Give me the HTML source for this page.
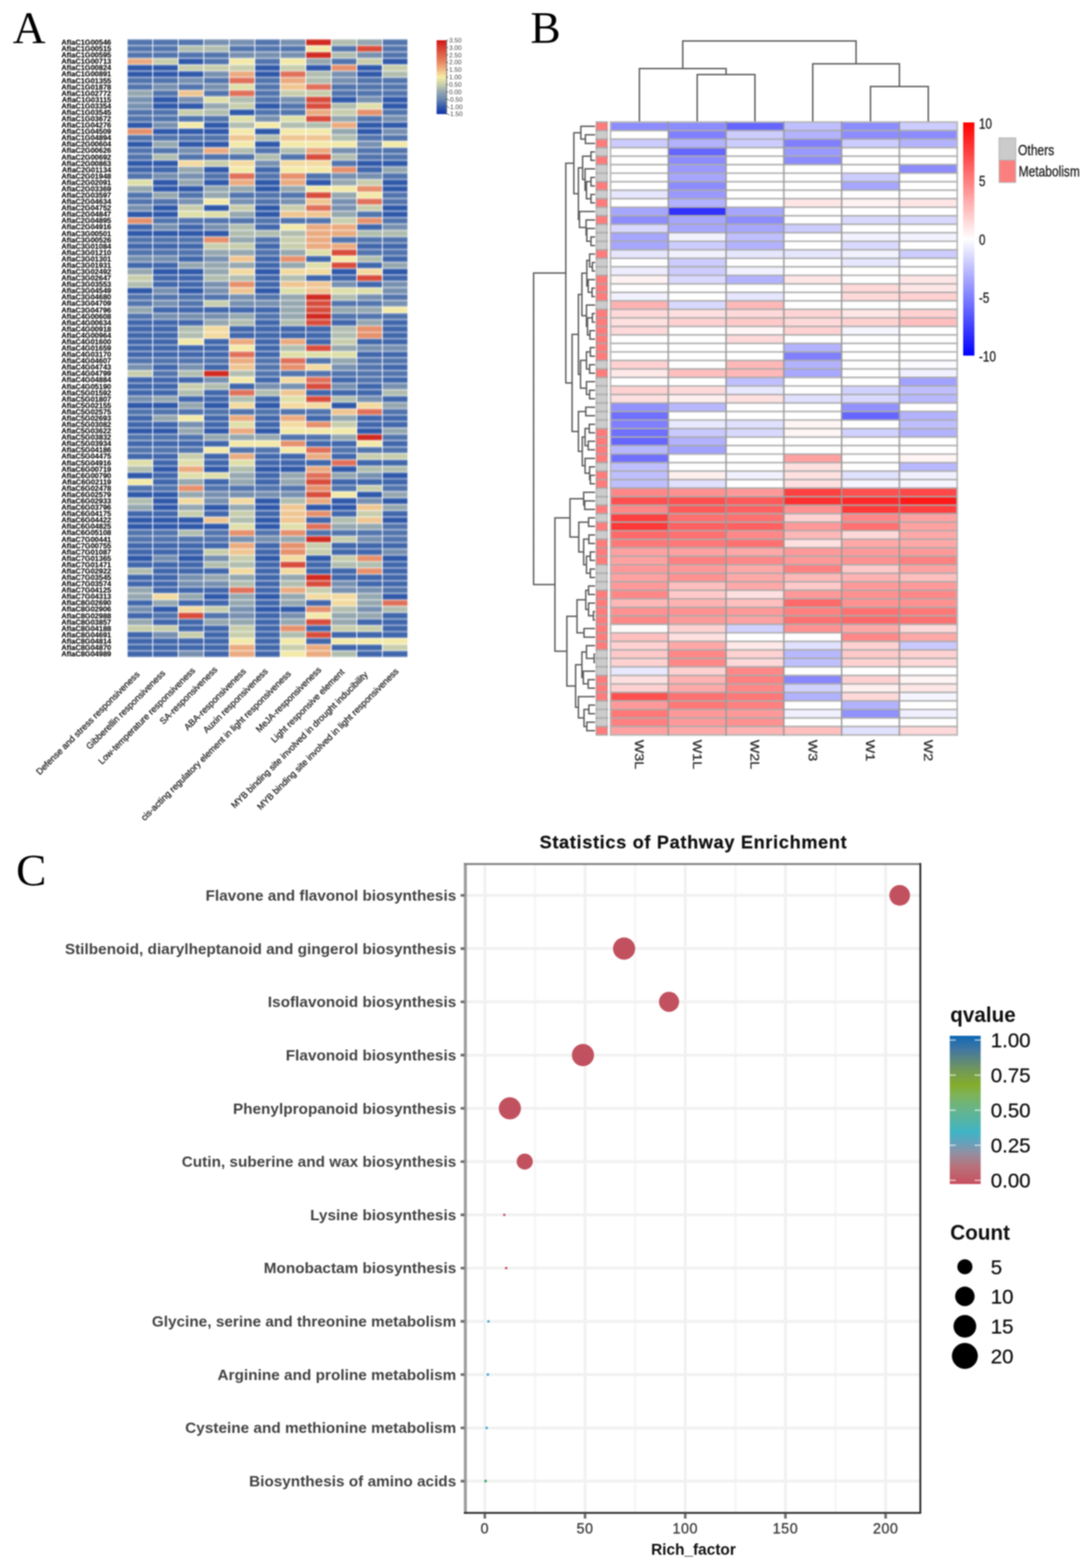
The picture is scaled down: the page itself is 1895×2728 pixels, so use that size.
<!DOCTYPE html>
<html lang="en"><head><meta charset="utf-8"><title>Figure</title><style>html,body{margin:0;padding:0;background:#fff}svg{display:block;filter:blur(0.8px)}</style></head><body>
<svg width="1895" height="2728" viewBox="0 0 1895 2728">
<rect width="1895" height="2728" fill="#fff"/>
<g id="panelA">
<text x="22.3" y="74" font-family="'Liberation Serif',serif" font-size="79" fill="#000">A</text>
<g>
<rect x="221.3" y="68.2" width="133.25" height="11.13" fill="#5274ad"/>
<rect x="354.5" y="68.2" width="88.85" height="11.13" fill="#7790b0"/>
<rect x="443.3" y="68.2" width="44.45" height="11.13" fill="#5274ad"/>
<rect x="487.7" y="68.2" width="44.45" height="11.13" fill="#7790b0"/>
<rect x="532.1" y="68.2" width="44.45" height="11.13" fill="#d02a20"/>
<rect x="576.5" y="68.2" width="44.45" height="11.13" fill="#b1beaf"/>
<rect x="620.9" y="68.2" width="44.45" height="11.13" fill="#95a7af"/>
<rect x="665.3" y="68.2" width="44.45" height="11.13" fill="#5274ad"/>
<rect x="221.3" y="79.28" width="88.85" height="11.13" fill="#5274ad"/>
<rect x="310.1" y="79.28" width="88.85" height="11.13" fill="#b1beaf"/>
<rect x="398.9" y="79.28" width="133.25" height="11.13" fill="#5274ad"/>
<rect x="532.1" y="79.28" width="44.45" height="11.13" fill="#f3e9a8"/>
<rect x="576.5" y="79.28" width="44.45" height="11.13" fill="#5274ad"/>
<rect x="620.9" y="79.28" width="44.45" height="11.13" fill="#d84c3c"/>
<rect x="665.3" y="79.28" width="44.45" height="11.13" fill="#5274ad"/>
<rect x="221.3" y="90.37" width="177.65" height="11.13" fill="#5274ad"/>
<rect x="398.9" y="90.37" width="133.25" height="11.13" fill="#7790b0"/>
<rect x="532.1" y="90.37" width="44.45" height="11.13" fill="#d02a20"/>
<rect x="576.5" y="90.37" width="44.45" height="11.13" fill="#b1beaf"/>
<rect x="620.9" y="90.37" width="44.45" height="11.13" fill="#7790b0"/>
<rect x="665.3" y="90.37" width="44.45" height="11.13" fill="#5274ad"/>
<rect x="221.3" y="101.45" width="44.45" height="11.13" fill="#ebab80"/>
<rect x="265.7" y="101.45" width="44.45" height="11.13" fill="#c8ceac"/>
<rect x="310.1" y="101.45" width="44.45" height="11.13" fill="#2f58a9"/>
<rect x="354.5" y="101.45" width="44.45" height="11.13" fill="#5274ad"/>
<rect x="398.9" y="101.45" width="44.45" height="11.13" fill="#f3e9a8"/>
<rect x="443.3" y="101.45" width="44.45" height="11.13" fill="#5274ad"/>
<rect x="487.7" y="101.45" width="44.45" height="11.13" fill="#f3e9a8"/>
<rect x="532.1" y="101.45" width="44.45" height="11.13" fill="#95a7af"/>
<rect x="576.5" y="101.45" width="44.45" height="11.13" fill="#5274ad"/>
<rect x="620.9" y="101.45" width="44.45" height="11.13" fill="#c8ceac"/>
<rect x="665.3" y="101.45" width="44.45" height="11.13" fill="#2f58a9"/>
<rect x="221.3" y="112.53" width="88.85" height="11.13" fill="#2f58a9"/>
<rect x="310.1" y="112.53" width="133.25" height="11.13" fill="#c8ceac"/>
<rect x="443.3" y="112.53" width="44.45" height="11.13" fill="#2f58a9"/>
<rect x="487.7" y="112.53" width="44.45" height="11.13" fill="#c8ceac"/>
<rect x="532.1" y="112.53" width="44.45" height="11.13" fill="#2f58a9"/>
<rect x="576.5" y="112.53" width="44.45" height="11.13" fill="#e6906c"/>
<rect x="620.9" y="112.53" width="44.45" height="11.13" fill="#2f58a9"/>
<rect x="665.3" y="112.53" width="44.45" height="11.13" fill="#c8ceac"/>
<rect x="221.3" y="123.62" width="133.25" height="11.13" fill="#2f58a9"/>
<rect x="354.5" y="123.62" width="44.45" height="11.13" fill="#7790b0"/>
<rect x="398.9" y="123.62" width="44.45" height="11.13" fill="#ebab80"/>
<rect x="443.3" y="123.62" width="44.45" height="11.13" fill="#2f58a9"/>
<rect x="487.7" y="123.62" width="44.45" height="11.13" fill="#e0705a"/>
<rect x="532.1" y="123.62" width="44.45" height="11.13" fill="#b1beaf"/>
<rect x="576.5" y="123.62" width="44.45" height="11.13" fill="#7790b0"/>
<rect x="620.9" y="123.62" width="44.45" height="11.13" fill="#2f58a9"/>
<rect x="665.3" y="123.62" width="44.45" height="11.13" fill="#b1beaf"/>
<rect x="221.3" y="134.7" width="88.85" height="11.13" fill="#5274ad"/>
<rect x="310.1" y="134.7" width="44.45" height="11.13" fill="#7790b0"/>
<rect x="354.5" y="134.7" width="44.45" height="11.13" fill="#5274ad"/>
<rect x="398.9" y="134.7" width="44.45" height="11.13" fill="#e0705a"/>
<rect x="443.3" y="134.7" width="44.45" height="11.13" fill="#5274ad"/>
<rect x="487.7" y="134.7" width="44.45" height="11.13" fill="#ebab80"/>
<rect x="532.1" y="134.7" width="44.45" height="11.13" fill="#b1beaf"/>
<rect x="576.5" y="134.7" width="44.45" height="11.13" fill="#7790b0"/>
<rect x="620.9" y="134.7" width="88.85" height="11.13" fill="#5274ad"/>
<rect x="221.3" y="145.78" width="44.45" height="11.13" fill="#5274ad"/>
<rect x="265.7" y="145.78" width="44.45" height="11.13" fill="#7790b0"/>
<rect x="310.1" y="145.78" width="44.45" height="11.13" fill="#5274ad"/>
<rect x="354.5" y="145.78" width="44.45" height="11.13" fill="#7790b0"/>
<rect x="398.9" y="145.78" width="44.45" height="11.13" fill="#dfdfa9"/>
<rect x="443.3" y="145.78" width="44.45" height="11.13" fill="#5274ad"/>
<rect x="487.7" y="145.78" width="44.45" height="11.13" fill="#efc692"/>
<rect x="532.1" y="145.78" width="44.45" height="11.13" fill="#e0705a"/>
<rect x="576.5" y="145.78" width="133.25" height="11.13" fill="#5274ad"/>
<rect x="221.3" y="156.87" width="44.45" height="11.13" fill="#95a7af"/>
<rect x="265.7" y="156.87" width="44.45" height="11.13" fill="#5274ad"/>
<rect x="310.1" y="156.87" width="44.45" height="11.13" fill="#efc692"/>
<rect x="354.5" y="156.87" width="44.45" height="11.13" fill="#5274ad"/>
<rect x="398.9" y="156.87" width="44.45" height="11.13" fill="#e0705a"/>
<rect x="443.3" y="156.87" width="44.45" height="11.13" fill="#5274ad"/>
<rect x="487.7" y="156.87" width="88.85" height="11.13" fill="#c8ceac"/>
<rect x="576.5" y="156.87" width="133.25" height="11.13" fill="#5274ad"/>
<rect x="221.3" y="167.95" width="44.45" height="11.13" fill="#7790b0"/>
<rect x="265.7" y="167.95" width="44.45" height="11.13" fill="#2f58a9"/>
<rect x="310.1" y="167.95" width="44.45" height="11.13" fill="#7790b0"/>
<rect x="354.5" y="167.95" width="44.45" height="11.13" fill="#dfdfa9"/>
<rect x="398.9" y="167.95" width="44.45" height="11.13" fill="#b1beaf"/>
<rect x="443.3" y="167.95" width="44.45" height="11.13" fill="#5274ad"/>
<rect x="487.7" y="167.95" width="44.45" height="11.13" fill="#7790b0"/>
<rect x="532.1" y="167.95" width="44.45" height="11.13" fill="#d84c3c"/>
<rect x="576.5" y="167.95" width="44.45" height="11.13" fill="#2f58a9"/>
<rect x="620.9" y="167.95" width="44.45" height="11.13" fill="#7790b0"/>
<rect x="665.3" y="167.95" width="44.45" height="11.13" fill="#2f58a9"/>
<rect x="221.3" y="179.04" width="44.45" height="11.13" fill="#7790b0"/>
<rect x="265.7" y="179.04" width="88.85" height="11.13" fill="#2f58a9"/>
<rect x="354.5" y="179.04" width="44.45" height="11.13" fill="#95a7af"/>
<rect x="398.9" y="179.04" width="44.45" height="11.13" fill="#c8ceac"/>
<rect x="443.3" y="179.04" width="44.45" height="11.13" fill="#2f58a9"/>
<rect x="487.7" y="179.04" width="44.45" height="11.13" fill="#5274ad"/>
<rect x="532.1" y="179.04" width="44.45" height="11.13" fill="#d84c3c"/>
<rect x="576.5" y="179.04" width="44.45" height="11.13" fill="#b1beaf"/>
<rect x="620.9" y="179.04" width="44.45" height="11.13" fill="#dfdfa9"/>
<rect x="665.3" y="179.04" width="44.45" height="11.13" fill="#2f58a9"/>
<rect x="221.3" y="190.12" width="88.85" height="11.13" fill="#5274ad"/>
<rect x="310.1" y="190.12" width="44.45" height="11.13" fill="#c8ceac"/>
<rect x="354.5" y="190.12" width="44.45" height="11.13" fill="#b1beaf"/>
<rect x="398.9" y="190.12" width="44.45" height="11.13" fill="#2f58a9"/>
<rect x="443.3" y="190.12" width="88.85" height="11.13" fill="#5274ad"/>
<rect x="532.1" y="190.12" width="44.45" height="11.13" fill="#ebab80"/>
<rect x="576.5" y="190.12" width="44.45" height="11.13" fill="#c8ceac"/>
<rect x="620.9" y="190.12" width="44.45" height="11.13" fill="#e6906c"/>
<rect x="665.3" y="190.12" width="44.45" height="11.13" fill="#5274ad"/>
<rect x="221.3" y="201.2" width="177.65" height="11.13" fill="#5274ad"/>
<rect x="398.9" y="201.2" width="44.45" height="11.13" fill="#dfdfa9"/>
<rect x="443.3" y="201.2" width="44.45" height="11.13" fill="#7790b0"/>
<rect x="487.7" y="201.2" width="44.45" height="11.13" fill="#dfdfa9"/>
<rect x="532.1" y="201.2" width="44.45" height="11.13" fill="#d84c3c"/>
<rect x="576.5" y="201.2" width="44.45" height="11.13" fill="#95a7af"/>
<rect x="620.9" y="201.2" width="44.45" height="11.13" fill="#5274ad"/>
<rect x="665.3" y="201.2" width="44.45" height="11.13" fill="#7790b0"/>
<rect x="221.3" y="212.29" width="44.45" height="11.13" fill="#2f58a9"/>
<rect x="265.7" y="212.29" width="44.45" height="11.13" fill="#7790b0"/>
<rect x="310.1" y="212.29" width="44.45" height="11.13" fill="#f3e9a8"/>
<rect x="354.5" y="212.29" width="44.45" height="11.13" fill="#2f58a9"/>
<rect x="398.9" y="212.29" width="44.45" height="11.13" fill="#b1beaf"/>
<rect x="443.3" y="212.29" width="44.45" height="11.13" fill="#f3e9a8"/>
<rect x="487.7" y="212.29" width="88.85" height="11.13" fill="#b1beaf"/>
<rect x="576.5" y="212.29" width="44.45" height="11.13" fill="#ebab80"/>
<rect x="620.9" y="212.29" width="88.85" height="11.13" fill="#2f58a9"/>
<rect x="221.3" y="223.37" width="44.45" height="11.13" fill="#e6906c"/>
<rect x="265.7" y="223.37" width="133.25" height="11.13" fill="#2f58a9"/>
<rect x="398.9" y="223.37" width="44.45" height="11.13" fill="#f3e9a8"/>
<rect x="443.3" y="223.37" width="44.45" height="11.13" fill="#2f58a9"/>
<rect x="487.7" y="223.37" width="88.85" height="11.13" fill="#f3e9a8"/>
<rect x="576.5" y="223.37" width="44.45" height="11.13" fill="#95a7af"/>
<rect x="620.9" y="223.37" width="44.45" height="11.13" fill="#2f58a9"/>
<rect x="665.3" y="223.37" width="44.45" height="11.13" fill="#7790b0"/>
<rect x="221.3" y="234.45" width="177.65" height="11.13" fill="#5274ad"/>
<rect x="398.9" y="234.45" width="44.45" height="11.13" fill="#efc692"/>
<rect x="443.3" y="234.45" width="44.45" height="11.13" fill="#b1beaf"/>
<rect x="487.7" y="234.45" width="88.85" height="11.13" fill="#efc692"/>
<rect x="576.5" y="234.45" width="44.45" height="11.13" fill="#b1beaf"/>
<rect x="620.9" y="234.45" width="88.85" height="11.13" fill="#5274ad"/>
<rect x="221.3" y="245.54" width="44.45" height="11.13" fill="#2f58a9"/>
<rect x="265.7" y="245.54" width="44.45" height="11.13" fill="#95a7af"/>
<rect x="310.1" y="245.54" width="88.85" height="11.13" fill="#2f58a9"/>
<rect x="398.9" y="245.54" width="44.45" height="11.13" fill="#f3e9a8"/>
<rect x="443.3" y="245.54" width="44.45" height="11.13" fill="#2f58a9"/>
<rect x="487.7" y="245.54" width="133.25" height="11.13" fill="#f3e9a8"/>
<rect x="620.9" y="245.54" width="44.45" height="11.13" fill="#7790b0"/>
<rect x="665.3" y="245.54" width="44.45" height="11.13" fill="#f3e9a8"/>
<rect x="221.3" y="256.62" width="88.85" height="11.13" fill="#5274ad"/>
<rect x="310.1" y="256.62" width="44.45" height="11.13" fill="#7790b0"/>
<rect x="354.5" y="256.62" width="44.45" height="11.13" fill="#ebab80"/>
<rect x="398.9" y="256.62" width="44.45" height="11.13" fill="#b1beaf"/>
<rect x="443.3" y="256.62" width="44.45" height="11.13" fill="#5274ad"/>
<rect x="487.7" y="256.62" width="44.45" height="11.13" fill="#b1beaf"/>
<rect x="532.1" y="256.62" width="44.45" height="11.13" fill="#ebab80"/>
<rect x="576.5" y="256.62" width="44.45" height="11.13" fill="#7790b0"/>
<rect x="620.9" y="256.62" width="88.85" height="11.13" fill="#5274ad"/>
<rect x="221.3" y="267.7" width="44.45" height="11.13" fill="#5274ad"/>
<rect x="265.7" y="267.7" width="44.45" height="11.13" fill="#b1beaf"/>
<rect x="310.1" y="267.7" width="133.25" height="11.13" fill="#5274ad"/>
<rect x="443.3" y="267.7" width="44.45" height="11.13" fill="#b1beaf"/>
<rect x="487.7" y="267.7" width="44.45" height="11.13" fill="#5274ad"/>
<rect x="532.1" y="267.7" width="44.45" height="11.13" fill="#d84c3c"/>
<rect x="576.5" y="267.7" width="44.45" height="11.13" fill="#b1beaf"/>
<rect x="620.9" y="267.7" width="88.85" height="11.13" fill="#5274ad"/>
<rect x="221.3" y="278.79" width="88.85" height="11.13" fill="#2f58a9"/>
<rect x="310.1" y="278.79" width="44.45" height="11.13" fill="#f3daa0"/>
<rect x="354.5" y="278.79" width="44.45" height="11.13" fill="#c8ceac"/>
<rect x="398.9" y="278.79" width="44.45" height="11.13" fill="#f3daa0"/>
<rect x="443.3" y="278.79" width="44.45" height="11.13" fill="#7790b0"/>
<rect x="487.7" y="278.79" width="88.85" height="11.13" fill="#f3daa0"/>
<rect x="576.5" y="278.79" width="44.45" height="11.13" fill="#5274ad"/>
<rect x="620.9" y="278.79" width="88.85" height="11.13" fill="#2f58a9"/>
<rect x="221.3" y="289.87" width="88.85" height="11.13" fill="#4066ab"/>
<rect x="310.1" y="289.87" width="44.45" height="11.13" fill="#95a7af"/>
<rect x="354.5" y="289.87" width="44.45" height="11.13" fill="#2f58a9"/>
<rect x="398.9" y="289.87" width="44.45" height="11.13" fill="#f3e9a8"/>
<rect x="443.3" y="289.87" width="44.45" height="11.13" fill="#4066ab"/>
<rect x="487.7" y="289.87" width="88.85" height="11.13" fill="#f3e9a8"/>
<rect x="576.5" y="289.87" width="44.45" height="11.13" fill="#e6906c"/>
<rect x="620.9" y="289.87" width="44.45" height="11.13" fill="#4066ab"/>
<rect x="665.3" y="289.87" width="44.45" height="11.13" fill="#95a7af"/>
<rect x="221.3" y="300.95" width="44.45" height="11.13" fill="#5274ad"/>
<rect x="265.7" y="300.95" width="88.85" height="11.13" fill="#7790b0"/>
<rect x="354.5" y="300.95" width="44.45" height="11.13" fill="#5274ad"/>
<rect x="398.9" y="300.95" width="44.45" height="11.13" fill="#e0705a"/>
<rect x="443.3" y="300.95" width="44.45" height="11.13" fill="#5274ad"/>
<rect x="487.7" y="300.95" width="44.45" height="11.13" fill="#e6906c"/>
<rect x="532.1" y="300.95" width="44.45" height="11.13" fill="#5274ad"/>
<rect x="576.5" y="300.95" width="88.85" height="11.13" fill="#7790b0"/>
<rect x="665.3" y="300.95" width="44.45" height="11.13" fill="#5274ad"/>
<rect x="221.3" y="312.04" width="44.45" height="11.13" fill="#dfdfa9"/>
<rect x="265.7" y="312.04" width="44.45" height="11.13" fill="#2f58a9"/>
<rect x="310.1" y="312.04" width="44.45" height="11.13" fill="#95a7af"/>
<rect x="354.5" y="312.04" width="44.45" height="11.13" fill="#2f58a9"/>
<rect x="398.9" y="312.04" width="44.45" height="11.13" fill="#ebab80"/>
<rect x="443.3" y="312.04" width="44.45" height="11.13" fill="#2f58a9"/>
<rect x="487.7" y="312.04" width="44.45" height="11.13" fill="#ebab80"/>
<rect x="532.1" y="312.04" width="44.45" height="11.13" fill="#2f58a9"/>
<rect x="576.5" y="312.04" width="44.45" height="11.13" fill="#95a7af"/>
<rect x="620.9" y="312.04" width="44.45" height="11.13" fill="#c8ceac"/>
<rect x="665.3" y="312.04" width="44.45" height="11.13" fill="#2f58a9"/>
<rect x="221.3" y="323.12" width="44.45" height="11.13" fill="#95a7af"/>
<rect x="265.7" y="323.12" width="88.85" height="11.13" fill="#2f58a9"/>
<rect x="354.5" y="323.12" width="88.85" height="11.13" fill="#95a7af"/>
<rect x="443.3" y="323.12" width="44.45" height="11.13" fill="#2f58a9"/>
<rect x="487.7" y="323.12" width="44.45" height="11.13" fill="#95a7af"/>
<rect x="532.1" y="323.12" width="88.85" height="11.13" fill="#f3e9a8"/>
<rect x="620.9" y="323.12" width="44.45" height="11.13" fill="#e6906c"/>
<rect x="665.3" y="323.12" width="44.45" height="11.13" fill="#2f58a9"/>
<rect x="221.3" y="334.2" width="44.45" height="11.13" fill="#5274ad"/>
<rect x="265.7" y="334.2" width="44.45" height="11.13" fill="#95a7af"/>
<rect x="310.1" y="334.2" width="44.45" height="11.13" fill="#5274ad"/>
<rect x="354.5" y="334.2" width="44.45" height="11.13" fill="#95a7af"/>
<rect x="398.9" y="334.2" width="133.25" height="11.13" fill="#5274ad"/>
<rect x="532.1" y="334.2" width="44.45" height="11.13" fill="#d84c3c"/>
<rect x="576.5" y="334.2" width="44.45" height="11.13" fill="#95a7af"/>
<rect x="620.9" y="334.2" width="44.45" height="11.13" fill="#f3e9a8"/>
<rect x="665.3" y="334.2" width="44.45" height="11.13" fill="#5274ad"/>
<rect x="221.3" y="345.29" width="88.85" height="11.13" fill="#5274ad"/>
<rect x="310.1" y="345.29" width="44.45" height="11.13" fill="#7790b0"/>
<rect x="354.5" y="345.29" width="44.45" height="11.13" fill="#f3e9a8"/>
<rect x="398.9" y="345.29" width="44.45" height="11.13" fill="#7790b0"/>
<rect x="443.3" y="345.29" width="44.45" height="11.13" fill="#5274ad"/>
<rect x="487.7" y="345.29" width="44.45" height="11.13" fill="#7790b0"/>
<rect x="532.1" y="345.29" width="44.45" height="11.13" fill="#efc692"/>
<rect x="576.5" y="345.29" width="44.45" height="11.13" fill="#7790b0"/>
<rect x="620.9" y="345.29" width="44.45" height="11.13" fill="#e0705a"/>
<rect x="665.3" y="345.29" width="44.45" height="11.13" fill="#5274ad"/>
<rect x="221.3" y="356.37" width="44.45" height="11.13" fill="#7790b0"/>
<rect x="265.7" y="356.37" width="44.45" height="11.13" fill="#2f58a9"/>
<rect x="310.1" y="356.37" width="44.45" height="11.13" fill="#c8ceac"/>
<rect x="354.5" y="356.37" width="44.45" height="11.13" fill="#2f58a9"/>
<rect x="398.9" y="356.37" width="44.45" height="11.13" fill="#c8ceac"/>
<rect x="443.3" y="356.37" width="44.45" height="11.13" fill="#2f58a9"/>
<rect x="487.7" y="356.37" width="44.45" height="11.13" fill="#c8ceac"/>
<rect x="532.1" y="356.37" width="44.45" height="11.13" fill="#e0705a"/>
<rect x="576.5" y="356.37" width="44.45" height="11.13" fill="#7790b0"/>
<rect x="620.9" y="356.37" width="44.45" height="11.13" fill="#c8ceac"/>
<rect x="665.3" y="356.37" width="44.45" height="11.13" fill="#2f58a9"/>
<rect x="221.3" y="367.45" width="88.85" height="11.13" fill="#2f58a9"/>
<rect x="310.1" y="367.45" width="88.85" height="11.13" fill="#dfdfa9"/>
<rect x="398.9" y="367.45" width="44.45" height="11.13" fill="#95a7af"/>
<rect x="443.3" y="367.45" width="44.45" height="11.13" fill="#2f58a9"/>
<rect x="487.7" y="367.45" width="88.85" height="11.13" fill="#efc692"/>
<rect x="576.5" y="367.45" width="44.45" height="11.13" fill="#95a7af"/>
<rect x="620.9" y="367.45" width="44.45" height="11.13" fill="#5274ad"/>
<rect x="665.3" y="367.45" width="44.45" height="11.13" fill="#2f58a9"/>
<rect x="221.3" y="378.54" width="44.45" height="11.13" fill="#e6906c"/>
<rect x="265.7" y="378.54" width="310.85" height="11.13" fill="#5274ad"/>
<rect x="576.5" y="378.54" width="44.45" height="11.13" fill="#c8ceac"/>
<rect x="620.9" y="378.54" width="44.45" height="11.13" fill="#e6906c"/>
<rect x="665.3" y="378.54" width="44.45" height="11.13" fill="#5274ad"/>
<rect x="221.3" y="389.62" width="44.45" height="11.13" fill="#4066ab"/>
<rect x="265.7" y="389.62" width="44.45" height="11.13" fill="#7790b0"/>
<rect x="310.1" y="389.62" width="44.45" height="11.13" fill="#4066ab"/>
<rect x="354.5" y="389.62" width="44.45" height="11.13" fill="#7790b0"/>
<rect x="398.9" y="389.62" width="44.45" height="11.13" fill="#b1beaf"/>
<rect x="443.3" y="389.62" width="44.45" height="11.13" fill="#4066ab"/>
<rect x="487.7" y="389.62" width="44.45" height="11.13" fill="#f3e9a8"/>
<rect x="532.1" y="389.62" width="88.85" height="11.13" fill="#ebab80"/>
<rect x="620.9" y="389.62" width="44.45" height="11.13" fill="#4066ab"/>
<rect x="665.3" y="389.62" width="44.45" height="11.13" fill="#7790b0"/>
<rect x="221.3" y="400.71" width="177.65" height="11.13" fill="#2f58a9"/>
<rect x="398.9" y="400.71" width="133.25" height="11.13" fill="#b1beaf"/>
<rect x="532.1" y="400.71" width="88.85" height="11.13" fill="#ebab80"/>
<rect x="620.9" y="400.71" width="88.85" height="11.13" fill="#b1beaf"/>
<rect x="221.3" y="411.79" width="133.25" height="11.13" fill="#5274ad"/>
<rect x="354.5" y="411.79" width="44.45" height="11.13" fill="#e6906c"/>
<rect x="398.9" y="411.79" width="44.45" height="11.13" fill="#95a7af"/>
<rect x="443.3" y="411.79" width="44.45" height="11.13" fill="#5274ad"/>
<rect x="487.7" y="411.79" width="44.45" height="11.13" fill="#c8ceac"/>
<rect x="532.1" y="411.79" width="44.45" height="11.13" fill="#ebab80"/>
<rect x="576.5" y="411.79" width="133.25" height="11.13" fill="#5274ad"/>
<rect x="221.3" y="422.87" width="133.25" height="11.13" fill="#4066ab"/>
<rect x="354.5" y="422.87" width="88.85" height="11.13" fill="#c8ceac"/>
<rect x="443.3" y="422.87" width="44.45" height="11.13" fill="#4066ab"/>
<rect x="487.7" y="422.87" width="44.45" height="11.13" fill="#c8ceac"/>
<rect x="532.1" y="422.87" width="88.85" height="11.13" fill="#ebab80"/>
<rect x="620.9" y="422.87" width="88.85" height="11.13" fill="#4066ab"/>
<rect x="221.3" y="433.96" width="133.25" height="11.13" fill="#5274ad"/>
<rect x="354.5" y="433.96" width="88.85" height="11.13" fill="#95a7af"/>
<rect x="443.3" y="433.96" width="44.45" height="11.13" fill="#5274ad"/>
<rect x="487.7" y="433.96" width="44.45" height="11.13" fill="#95a7af"/>
<rect x="532.1" y="433.96" width="44.45" height="11.13" fill="#dfdfa9"/>
<rect x="576.5" y="433.96" width="44.45" height="11.13" fill="#d84c3c"/>
<rect x="620.9" y="433.96" width="88.85" height="11.13" fill="#5274ad"/>
<rect x="221.3" y="445.04" width="88.85" height="11.13" fill="#7790b0"/>
<rect x="310.1" y="445.04" width="44.45" height="11.13" fill="#4066ab"/>
<rect x="354.5" y="445.04" width="44.45" height="11.13" fill="#7790b0"/>
<rect x="398.9" y="445.04" width="44.45" height="11.13" fill="#efc692"/>
<rect x="443.3" y="445.04" width="44.45" height="11.13" fill="#4066ab"/>
<rect x="487.7" y="445.04" width="44.45" height="11.13" fill="#e6906c"/>
<rect x="532.1" y="445.04" width="44.45" height="11.13" fill="#4066ab"/>
<rect x="576.5" y="445.04" width="44.45" height="11.13" fill="#f3e9a8"/>
<rect x="620.9" y="445.04" width="44.45" height="11.13" fill="#b1beaf"/>
<rect x="665.3" y="445.04" width="44.45" height="11.13" fill="#4066ab"/>
<rect x="221.3" y="456.12" width="88.85" height="11.13" fill="#4066ab"/>
<rect x="310.1" y="456.12" width="133.25" height="11.13" fill="#95a7af"/>
<rect x="443.3" y="456.12" width="44.45" height="11.13" fill="#4066ab"/>
<rect x="487.7" y="456.12" width="44.45" height="11.13" fill="#95a7af"/>
<rect x="532.1" y="456.12" width="44.45" height="11.13" fill="#dfdfa9"/>
<rect x="576.5" y="456.12" width="44.45" height="11.13" fill="#d84c3c"/>
<rect x="620.9" y="456.12" width="44.45" height="11.13" fill="#4066ab"/>
<rect x="665.3" y="456.12" width="44.45" height="11.13" fill="#95a7af"/>
<rect x="221.3" y="467.21" width="44.45" height="11.13" fill="#95a7af"/>
<rect x="265.7" y="467.21" width="88.85" height="11.13" fill="#2f58a9"/>
<rect x="354.5" y="467.21" width="44.45" height="11.13" fill="#95a7af"/>
<rect x="398.9" y="467.21" width="44.45" height="11.13" fill="#f3daa0"/>
<rect x="443.3" y="467.21" width="44.45" height="11.13" fill="#2f58a9"/>
<rect x="487.7" y="467.21" width="88.85" height="11.13" fill="#f3daa0"/>
<rect x="576.5" y="467.21" width="44.45" height="11.13" fill="#2f58a9"/>
<rect x="620.9" y="467.21" width="44.45" height="11.13" fill="#f3daa0"/>
<rect x="665.3" y="467.21" width="44.45" height="11.13" fill="#2f58a9"/>
<rect x="221.3" y="478.29" width="44.45" height="11.13" fill="#c8ceac"/>
<rect x="265.7" y="478.29" width="88.85" height="11.13" fill="#4066ab"/>
<rect x="354.5" y="478.29" width="88.85" height="11.13" fill="#b1beaf"/>
<rect x="443.3" y="478.29" width="44.45" height="11.13" fill="#4066ab"/>
<rect x="487.7" y="478.29" width="44.45" height="11.13" fill="#b1beaf"/>
<rect x="532.1" y="478.29" width="88.85" height="11.13" fill="#4066ab"/>
<rect x="620.9" y="478.29" width="44.45" height="11.13" fill="#d84c3c"/>
<rect x="665.3" y="478.29" width="44.45" height="11.13" fill="#4066ab"/>
<rect x="221.3" y="489.37" width="44.45" height="11.13" fill="#b1beaf"/>
<rect x="265.7" y="489.37" width="88.85" height="11.13" fill="#4066ab"/>
<rect x="354.5" y="489.37" width="44.45" height="11.13" fill="#7790b0"/>
<rect x="398.9" y="489.37" width="44.45" height="11.13" fill="#e6906c"/>
<rect x="443.3" y="489.37" width="44.45" height="11.13" fill="#4066ab"/>
<rect x="487.7" y="489.37" width="88.85" height="11.13" fill="#efc692"/>
<rect x="576.5" y="489.37" width="44.45" height="11.13" fill="#7790b0"/>
<rect x="620.9" y="489.37" width="44.45" height="11.13" fill="#4066ab"/>
<rect x="665.3" y="489.37" width="44.45" height="11.13" fill="#7790b0"/>
<rect x="221.3" y="500.46" width="44.45" height="11.13" fill="#2f58a9"/>
<rect x="265.7" y="500.46" width="44.45" height="11.13" fill="#7790b0"/>
<rect x="310.1" y="500.46" width="44.45" height="11.13" fill="#2f58a9"/>
<rect x="354.5" y="500.46" width="44.45" height="11.13" fill="#7790b0"/>
<rect x="398.9" y="500.46" width="44.45" height="11.13" fill="#efc692"/>
<rect x="443.3" y="500.46" width="44.45" height="11.13" fill="#2f58a9"/>
<rect x="487.7" y="500.46" width="44.45" height="11.13" fill="#dfdfa9"/>
<rect x="532.1" y="500.46" width="44.45" height="11.13" fill="#efc692"/>
<rect x="576.5" y="500.46" width="88.85" height="11.13" fill="#dfdfa9"/>
<rect x="665.3" y="500.46" width="44.45" height="11.13" fill="#7790b0"/>
<rect x="221.3" y="511.54" width="177.65" height="11.13" fill="#5274ad"/>
<rect x="398.9" y="511.54" width="44.45" height="11.13" fill="#7790b0"/>
<rect x="443.3" y="511.54" width="44.45" height="11.13" fill="#5274ad"/>
<rect x="487.7" y="511.54" width="44.45" height="11.13" fill="#95a7af"/>
<rect x="532.1" y="511.54" width="44.45" height="11.13" fill="#d02a20"/>
<rect x="576.5" y="511.54" width="44.45" height="11.13" fill="#b1beaf"/>
<rect x="620.9" y="511.54" width="44.45" height="11.13" fill="#7790b0"/>
<rect x="665.3" y="511.54" width="44.45" height="11.13" fill="#5274ad"/>
<rect x="221.3" y="522.62" width="44.45" height="11.13" fill="#5274ad"/>
<rect x="265.7" y="522.62" width="44.45" height="11.13" fill="#7790b0"/>
<rect x="310.1" y="522.62" width="44.45" height="11.13" fill="#5274ad"/>
<rect x="354.5" y="522.62" width="44.45" height="11.13" fill="#c8ceac"/>
<rect x="398.9" y="522.62" width="88.85" height="11.13" fill="#7790b0"/>
<rect x="487.7" y="522.62" width="44.45" height="11.13" fill="#95a7af"/>
<rect x="532.1" y="522.62" width="44.45" height="11.13" fill="#d84c3c"/>
<rect x="576.5" y="522.62" width="88.85" height="11.13" fill="#5274ad"/>
<rect x="665.3" y="522.62" width="44.45" height="11.13" fill="#7790b0"/>
<rect x="221.3" y="533.71" width="44.45" height="11.13" fill="#95a7af"/>
<rect x="265.7" y="533.71" width="222.05" height="11.13" fill="#4066ab"/>
<rect x="487.7" y="533.71" width="44.45" height="11.13" fill="#95a7af"/>
<rect x="532.1" y="533.71" width="44.45" height="11.13" fill="#d84c3c"/>
<rect x="576.5" y="533.71" width="88.85" height="11.13" fill="#95a7af"/>
<rect x="665.3" y="533.71" width="44.45" height="11.13" fill="#f3e9a8"/>
<rect x="221.3" y="544.79" width="44.45" height="11.13" fill="#5274ad"/>
<rect x="265.7" y="544.79" width="133.25" height="11.13" fill="#7790b0"/>
<rect x="398.9" y="544.79" width="44.45" height="11.13" fill="#95a7af"/>
<rect x="443.3" y="544.79" width="44.45" height="11.13" fill="#5274ad"/>
<rect x="487.7" y="544.79" width="44.45" height="11.13" fill="#95a7af"/>
<rect x="532.1" y="544.79" width="44.45" height="11.13" fill="#d02a20"/>
<rect x="576.5" y="544.79" width="133.25" height="11.13" fill="#5274ad"/>
<rect x="221.3" y="555.87" width="133.25" height="11.13" fill="#4066ab"/>
<rect x="354.5" y="555.87" width="44.45" height="11.13" fill="#95a7af"/>
<rect x="398.9" y="555.87" width="44.45" height="11.13" fill="#b1beaf"/>
<rect x="443.3" y="555.87" width="44.45" height="11.13" fill="#4066ab"/>
<rect x="487.7" y="555.87" width="44.45" height="11.13" fill="#b1beaf"/>
<rect x="532.1" y="555.87" width="44.45" height="11.13" fill="#d84c3c"/>
<rect x="576.5" y="555.87" width="44.45" height="11.13" fill="#4066ab"/>
<rect x="620.9" y="555.87" width="44.45" height="11.13" fill="#95a7af"/>
<rect x="665.3" y="555.87" width="44.45" height="11.13" fill="#4066ab"/>
<rect x="221.3" y="566.96" width="88.85" height="11.13" fill="#4066ab"/>
<rect x="310.1" y="566.96" width="44.45" height="11.13" fill="#b1beaf"/>
<rect x="354.5" y="566.96" width="44.45" height="11.13" fill="#f3daa0"/>
<rect x="398.9" y="566.96" width="177.65" height="11.13" fill="#4066ab"/>
<rect x="576.5" y="566.96" width="44.45" height="11.13" fill="#b1beaf"/>
<rect x="620.9" y="566.96" width="44.45" height="11.13" fill="#e6906c"/>
<rect x="665.3" y="566.96" width="44.45" height="11.13" fill="#4066ab"/>
<rect x="221.3" y="578.04" width="88.85" height="11.13" fill="#4066ab"/>
<rect x="310.1" y="578.04" width="44.45" height="11.13" fill="#b1beaf"/>
<rect x="354.5" y="578.04" width="44.45" height="11.13" fill="#f3daa0"/>
<rect x="398.9" y="578.04" width="177.65" height="11.13" fill="#4066ab"/>
<rect x="576.5" y="578.04" width="44.45" height="11.13" fill="#b1beaf"/>
<rect x="620.9" y="578.04" width="44.45" height="11.13" fill="#e6906c"/>
<rect x="665.3" y="578.04" width="44.45" height="11.13" fill="#4066ab"/>
<rect x="221.3" y="589.12" width="88.85" height="11.13" fill="#4066ab"/>
<rect x="310.1" y="589.12" width="44.45" height="11.13" fill="#f3e9a8"/>
<rect x="354.5" y="589.12" width="44.45" height="11.13" fill="#4066ab"/>
<rect x="398.9" y="589.12" width="44.45" height="11.13" fill="#ebab80"/>
<rect x="443.3" y="589.12" width="44.45" height="11.13" fill="#4066ab"/>
<rect x="487.7" y="589.12" width="44.45" height="11.13" fill="#ebab80"/>
<rect x="532.1" y="589.12" width="44.45" height="11.13" fill="#4066ab"/>
<rect x="576.5" y="589.12" width="44.45" height="11.13" fill="#c8ceac"/>
<rect x="620.9" y="589.12" width="88.85" height="11.13" fill="#4066ab"/>
<rect x="221.3" y="600.21" width="177.65" height="11.13" fill="#4066ab"/>
<rect x="398.9" y="600.21" width="44.45" height="11.13" fill="#f3e9a8"/>
<rect x="443.3" y="600.21" width="44.45" height="11.13" fill="#4066ab"/>
<rect x="487.7" y="600.21" width="44.45" height="11.13" fill="#b1beaf"/>
<rect x="532.1" y="600.21" width="44.45" height="11.13" fill="#d84c3c"/>
<rect x="576.5" y="600.21" width="44.45" height="11.13" fill="#95a7af"/>
<rect x="620.9" y="600.21" width="88.85" height="11.13" fill="#7790b0"/>
<rect x="221.3" y="611.29" width="177.65" height="11.13" fill="#4066ab"/>
<rect x="398.9" y="611.29" width="44.45" height="11.13" fill="#e0705a"/>
<rect x="443.3" y="611.29" width="44.45" height="11.13" fill="#4066ab"/>
<rect x="487.7" y="611.29" width="133.25" height="11.13" fill="#dfdfa9"/>
<rect x="620.9" y="611.29" width="88.85" height="11.13" fill="#4066ab"/>
<rect x="221.3" y="622.38" width="177.65" height="11.13" fill="#5274ad"/>
<rect x="398.9" y="622.38" width="44.45" height="11.13" fill="#ebab80"/>
<rect x="443.3" y="622.38" width="44.45" height="11.13" fill="#5274ad"/>
<rect x="487.7" y="622.38" width="44.45" height="11.13" fill="#e0705a"/>
<rect x="532.1" y="622.38" width="44.45" height="11.13" fill="#5274ad"/>
<rect x="576.5" y="622.38" width="44.45" height="11.13" fill="#95a7af"/>
<rect x="620.9" y="622.38" width="88.85" height="11.13" fill="#5274ad"/>
<rect x="221.3" y="633.46" width="44.45" height="11.13" fill="#7790b0"/>
<rect x="265.7" y="633.46" width="44.45" height="11.13" fill="#4066ab"/>
<rect x="310.1" y="633.46" width="44.45" height="11.13" fill="#7790b0"/>
<rect x="354.5" y="633.46" width="44.45" height="11.13" fill="#4066ab"/>
<rect x="398.9" y="633.46" width="44.45" height="11.13" fill="#efc692"/>
<rect x="443.3" y="633.46" width="44.45" height="11.13" fill="#5274ad"/>
<rect x="487.7" y="633.46" width="44.45" height="11.13" fill="#e6906c"/>
<rect x="532.1" y="633.46" width="44.45" height="11.13" fill="#f3daa0"/>
<rect x="576.5" y="633.46" width="44.45" height="11.13" fill="#7790b0"/>
<rect x="620.9" y="633.46" width="44.45" height="11.13" fill="#5274ad"/>
<rect x="665.3" y="633.46" width="44.45" height="11.13" fill="#4066ab"/>
<rect x="221.3" y="644.54" width="44.45" height="11.13" fill="#c8ceac"/>
<rect x="265.7" y="644.54" width="44.45" height="11.13" fill="#5274ad"/>
<rect x="310.1" y="644.54" width="44.45" height="11.13" fill="#b1beaf"/>
<rect x="354.5" y="644.54" width="44.45" height="11.13" fill="#d02a20"/>
<rect x="398.9" y="644.54" width="44.45" height="11.13" fill="#b1beaf"/>
<rect x="443.3" y="644.54" width="266.45" height="11.13" fill="#5274ad"/>
<rect x="221.3" y="655.63" width="133.25" height="11.13" fill="#4066ab"/>
<rect x="354.5" y="655.63" width="44.45" height="11.13" fill="#7790b0"/>
<rect x="398.9" y="655.63" width="44.45" height="11.13" fill="#f3e9a8"/>
<rect x="443.3" y="655.63" width="44.45" height="11.13" fill="#4066ab"/>
<rect x="487.7" y="655.63" width="44.45" height="11.13" fill="#f3daa0"/>
<rect x="532.1" y="655.63" width="44.45" height="11.13" fill="#e0705a"/>
<rect x="576.5" y="655.63" width="44.45" height="11.13" fill="#4066ab"/>
<rect x="620.9" y="655.63" width="44.45" height="11.13" fill="#5274ad"/>
<rect x="665.3" y="655.63" width="44.45" height="11.13" fill="#4066ab"/>
<rect x="221.3" y="666.71" width="88.85" height="11.13" fill="#4066ab"/>
<rect x="310.1" y="666.71" width="44.45" height="11.13" fill="#c8ceac"/>
<rect x="354.5" y="666.71" width="44.45" height="11.13" fill="#b1beaf"/>
<rect x="398.9" y="666.71" width="44.45" height="11.13" fill="#4066ab"/>
<rect x="443.3" y="666.71" width="88.85" height="11.13" fill="#7790b0"/>
<rect x="532.1" y="666.71" width="44.45" height="11.13" fill="#d84c3c"/>
<rect x="576.5" y="666.71" width="44.45" height="11.13" fill="#7790b0"/>
<rect x="620.9" y="666.71" width="44.45" height="11.13" fill="#4066ab"/>
<rect x="665.3" y="666.71" width="44.45" height="11.13" fill="#7790b0"/>
<rect x="221.3" y="677.79" width="88.85" height="11.13" fill="#4066ab"/>
<rect x="310.1" y="677.79" width="44.45" height="11.13" fill="#b1beaf"/>
<rect x="354.5" y="677.79" width="44.45" height="11.13" fill="#4066ab"/>
<rect x="398.9" y="677.79" width="44.45" height="11.13" fill="#e0705a"/>
<rect x="443.3" y="677.79" width="44.45" height="11.13" fill="#b1beaf"/>
<rect x="487.7" y="677.79" width="44.45" height="11.13" fill="#efc692"/>
<rect x="532.1" y="677.79" width="133.25" height="11.13" fill="#4066ab"/>
<rect x="665.3" y="677.79" width="44.45" height="11.13" fill="#b1beaf"/>
<rect x="221.3" y="688.88" width="44.45" height="11.13" fill="#7790b0"/>
<rect x="265.7" y="688.88" width="44.45" height="11.13" fill="#95a7af"/>
<rect x="310.1" y="688.88" width="88.85" height="11.13" fill="#4066ab"/>
<rect x="398.9" y="688.88" width="44.45" height="11.13" fill="#b1beaf"/>
<rect x="443.3" y="688.88" width="44.45" height="11.13" fill="#4066ab"/>
<rect x="487.7" y="688.88" width="44.45" height="11.13" fill="#dfdfa9"/>
<rect x="532.1" y="688.88" width="44.45" height="11.13" fill="#d84c3c"/>
<rect x="576.5" y="688.88" width="44.45" height="11.13" fill="#b1beaf"/>
<rect x="620.9" y="688.88" width="44.45" height="11.13" fill="#7790b0"/>
<rect x="665.3" y="688.88" width="44.45" height="11.13" fill="#4066ab"/>
<rect x="221.3" y="699.96" width="88.85" height="11.13" fill="#2f58a9"/>
<rect x="310.1" y="699.96" width="44.45" height="11.13" fill="#95a7af"/>
<rect x="354.5" y="699.96" width="44.45" height="11.13" fill="#2f58a9"/>
<rect x="398.9" y="699.96" width="44.45" height="11.13" fill="#f3daa0"/>
<rect x="443.3" y="699.96" width="44.45" height="11.13" fill="#2f58a9"/>
<rect x="487.7" y="699.96" width="88.85" height="11.13" fill="#f3daa0"/>
<rect x="576.5" y="699.96" width="44.45" height="11.13" fill="#2f58a9"/>
<rect x="620.9" y="699.96" width="44.45" height="11.13" fill="#f3daa0"/>
<rect x="665.3" y="699.96" width="44.45" height="11.13" fill="#95a7af"/>
<rect x="221.3" y="711.04" width="355.25" height="11.13" fill="#5274ad"/>
<rect x="576.5" y="711.04" width="44.45" height="11.13" fill="#efc692"/>
<rect x="620.9" y="711.04" width="44.45" height="11.13" fill="#e0705a"/>
<rect x="665.3" y="711.04" width="44.45" height="11.13" fill="#5274ad"/>
<rect x="221.3" y="722.13" width="44.45" height="11.13" fill="#4066ab"/>
<rect x="265.7" y="722.13" width="44.45" height="11.13" fill="#95a7af"/>
<rect x="310.1" y="722.13" width="44.45" height="11.13" fill="#f3e9a8"/>
<rect x="354.5" y="722.13" width="44.45" height="11.13" fill="#4066ab"/>
<rect x="398.9" y="722.13" width="44.45" height="11.13" fill="#ebab80"/>
<rect x="443.3" y="722.13" width="44.45" height="11.13" fill="#4066ab"/>
<rect x="487.7" y="722.13" width="44.45" height="11.13" fill="#ebab80"/>
<rect x="532.1" y="722.13" width="44.45" height="11.13" fill="#4066ab"/>
<rect x="576.5" y="722.13" width="44.45" height="11.13" fill="#95a7af"/>
<rect x="620.9" y="722.13" width="88.85" height="11.13" fill="#4066ab"/>
<rect x="221.3" y="733.21" width="88.85" height="11.13" fill="#4066ab"/>
<rect x="310.1" y="733.21" width="44.45" height="11.13" fill="#7790b0"/>
<rect x="354.5" y="733.21" width="44.45" height="11.13" fill="#4066ab"/>
<rect x="398.9" y="733.21" width="44.45" height="11.13" fill="#dfdfa9"/>
<rect x="443.3" y="733.21" width="44.45" height="11.13" fill="#4066ab"/>
<rect x="487.7" y="733.21" width="44.45" height="11.13" fill="#f3daa0"/>
<rect x="532.1" y="733.21" width="44.45" height="11.13" fill="#e6906c"/>
<rect x="576.5" y="733.21" width="44.45" height="11.13" fill="#c8ceac"/>
<rect x="620.9" y="733.21" width="88.85" height="11.13" fill="#4066ab"/>
<rect x="221.3" y="744.29" width="88.85" height="11.13" fill="#2f58a9"/>
<rect x="310.1" y="744.29" width="44.45" height="11.13" fill="#95a7af"/>
<rect x="354.5" y="744.29" width="44.45" height="11.13" fill="#2f58a9"/>
<rect x="398.9" y="744.29" width="44.45" height="11.13" fill="#ebab80"/>
<rect x="443.3" y="744.29" width="44.45" height="11.13" fill="#2f58a9"/>
<rect x="487.7" y="744.29" width="133.25" height="11.13" fill="#f3e9a8"/>
<rect x="620.9" y="744.29" width="44.45" height="11.13" fill="#2f58a9"/>
<rect x="665.3" y="744.29" width="44.45" height="11.13" fill="#95a7af"/>
<rect x="221.3" y="755.38" width="133.25" height="11.13" fill="#5274ad"/>
<rect x="354.5" y="755.38" width="133.25" height="11.13" fill="#95a7af"/>
<rect x="487.7" y="755.38" width="88.85" height="11.13" fill="#5274ad"/>
<rect x="576.5" y="755.38" width="44.45" height="11.13" fill="#95a7af"/>
<rect x="620.9" y="755.38" width="44.45" height="11.13" fill="#d02a20"/>
<rect x="665.3" y="755.38" width="44.45" height="11.13" fill="#5274ad"/>
<rect x="221.3" y="766.46" width="177.65" height="11.13" fill="#4066ab"/>
<rect x="398.9" y="766.46" width="88.85" height="11.13" fill="#f3e9a8"/>
<rect x="487.7" y="766.46" width="44.45" height="11.13" fill="#e6906c"/>
<rect x="532.1" y="766.46" width="88.85" height="11.13" fill="#4066ab"/>
<rect x="620.9" y="766.46" width="44.45" height="11.13" fill="#f3e9a8"/>
<rect x="665.3" y="766.46" width="44.45" height="11.13" fill="#4066ab"/>
<rect x="221.3" y="777.54" width="133.25" height="11.13" fill="#5274ad"/>
<rect x="354.5" y="777.54" width="44.45" height="11.13" fill="#f3e9a8"/>
<rect x="398.9" y="777.54" width="88.85" height="11.13" fill="#5274ad"/>
<rect x="487.7" y="777.54" width="44.45" height="11.13" fill="#f3e9a8"/>
<rect x="532.1" y="777.54" width="44.45" height="11.13" fill="#e0705a"/>
<rect x="576.5" y="777.54" width="133.25" height="11.13" fill="#5274ad"/>
<rect x="221.3" y="788.63" width="88.85" height="11.13" fill="#4066ab"/>
<rect x="310.1" y="788.63" width="44.45" height="11.13" fill="#c8ceac"/>
<rect x="354.5" y="788.63" width="44.45" height="11.13" fill="#4066ab"/>
<rect x="398.9" y="788.63" width="44.45" height="11.13" fill="#ebab80"/>
<rect x="443.3" y="788.63" width="88.85" height="11.13" fill="#4066ab"/>
<rect x="532.1" y="788.63" width="44.45" height="11.13" fill="#ebab80"/>
<rect x="576.5" y="788.63" width="44.45" height="11.13" fill="#4066ab"/>
<rect x="620.9" y="788.63" width="88.85" height="11.13" fill="#c8ceac"/>
<rect x="221.3" y="799.71" width="44.45" height="11.13" fill="#dfdfa9"/>
<rect x="265.7" y="799.71" width="44.45" height="11.13" fill="#4066ab"/>
<rect x="310.1" y="799.71" width="44.45" height="11.13" fill="#dfdfa9"/>
<rect x="354.5" y="799.71" width="44.45" height="11.13" fill="#4066ab"/>
<rect x="398.9" y="799.71" width="44.45" height="11.13" fill="#dfdfa9"/>
<rect x="443.3" y="799.71" width="133.25" height="11.13" fill="#4066ab"/>
<rect x="576.5" y="799.71" width="44.45" height="11.13" fill="#e0705a"/>
<rect x="620.9" y="799.71" width="88.85" height="11.13" fill="#4066ab"/>
<rect x="221.3" y="810.79" width="44.45" height="11.13" fill="#b1beaf"/>
<rect x="265.7" y="810.79" width="44.45" height="11.13" fill="#2f58a9"/>
<rect x="310.1" y="810.79" width="44.45" height="11.13" fill="#ebab80"/>
<rect x="354.5" y="810.79" width="44.45" height="11.13" fill="#2f58a9"/>
<rect x="398.9" y="810.79" width="44.45" height="11.13" fill="#b1beaf"/>
<rect x="443.3" y="810.79" width="88.85" height="11.13" fill="#2f58a9"/>
<rect x="532.1" y="810.79" width="44.45" height="11.13" fill="#ebab80"/>
<rect x="576.5" y="810.79" width="44.45" height="11.13" fill="#2f58a9"/>
<rect x="620.9" y="810.79" width="88.85" height="11.13" fill="#b1beaf"/>
<rect x="221.3" y="821.88" width="44.45" height="11.13" fill="#2f58a9"/>
<rect x="265.7" y="821.88" width="44.45" height="11.13" fill="#4066ab"/>
<rect x="310.1" y="821.88" width="88.85" height="11.13" fill="#dfdfa9"/>
<rect x="398.9" y="821.88" width="44.45" height="11.13" fill="#95a7af"/>
<rect x="443.3" y="821.88" width="44.45" height="11.13" fill="#4066ab"/>
<rect x="487.7" y="821.88" width="44.45" height="11.13" fill="#95a7af"/>
<rect x="532.1" y="821.88" width="44.45" height="11.13" fill="#e0705a"/>
<rect x="576.5" y="821.88" width="44.45" height="11.13" fill="#95a7af"/>
<rect x="620.9" y="821.88" width="44.45" height="11.13" fill="#7790b0"/>
<rect x="665.3" y="821.88" width="44.45" height="11.13" fill="#2f58a9"/>
<rect x="221.3" y="832.96" width="44.45" height="11.13" fill="#f3e9a8"/>
<rect x="265.7" y="832.96" width="44.45" height="11.13" fill="#4066ab"/>
<rect x="310.1" y="832.96" width="44.45" height="11.13" fill="#95a7af"/>
<rect x="354.5" y="832.96" width="44.45" height="11.13" fill="#4066ab"/>
<rect x="398.9" y="832.96" width="44.45" height="11.13" fill="#95a7af"/>
<rect x="443.3" y="832.96" width="44.45" height="11.13" fill="#4066ab"/>
<rect x="487.7" y="832.96" width="44.45" height="11.13" fill="#95a7af"/>
<rect x="532.1" y="832.96" width="44.45" height="11.13" fill="#d84c3c"/>
<rect x="576.5" y="832.96" width="133.25" height="11.13" fill="#4066ab"/>
<rect x="221.3" y="844.05" width="88.85" height="11.13" fill="#5274ad"/>
<rect x="310.1" y="844.05" width="44.45" height="11.13" fill="#e6906c"/>
<rect x="354.5" y="844.05" width="177.65" height="11.13" fill="#5274ad"/>
<rect x="532.1" y="844.05" width="44.45" height="11.13" fill="#e6906c"/>
<rect x="576.5" y="844.05" width="44.45" height="11.13" fill="#5274ad"/>
<rect x="620.9" y="844.05" width="44.45" height="11.13" fill="#c8ceac"/>
<rect x="665.3" y="844.05" width="44.45" height="11.13" fill="#5274ad"/>
<rect x="221.3" y="855.13" width="88.85" height="11.13" fill="#2f58a9"/>
<rect x="310.1" y="855.13" width="44.45" height="11.13" fill="#95a7af"/>
<rect x="354.5" y="855.13" width="177.65" height="11.13" fill="#7790b0"/>
<rect x="532.1" y="855.13" width="44.45" height="11.13" fill="#d84c3c"/>
<rect x="576.5" y="855.13" width="44.45" height="11.13" fill="#f3e9a8"/>
<rect x="620.9" y="855.13" width="44.45" height="11.13" fill="#2f58a9"/>
<rect x="665.3" y="855.13" width="44.45" height="11.13" fill="#95a7af"/>
<rect x="221.3" y="866.21" width="44.45" height="11.13" fill="#b1beaf"/>
<rect x="265.7" y="866.21" width="44.45" height="11.13" fill="#2f58a9"/>
<rect x="310.1" y="866.21" width="44.45" height="11.13" fill="#f3daa0"/>
<rect x="354.5" y="866.21" width="44.45" height="11.13" fill="#7790b0"/>
<rect x="398.9" y="866.21" width="44.45" height="11.13" fill="#f3daa0"/>
<rect x="443.3" y="866.21" width="44.45" height="11.13" fill="#2f58a9"/>
<rect x="487.7" y="866.21" width="44.45" height="11.13" fill="#b1beaf"/>
<rect x="532.1" y="866.21" width="44.45" height="11.13" fill="#ebab80"/>
<rect x="576.5" y="866.21" width="44.45" height="11.13" fill="#2f58a9"/>
<rect x="620.9" y="866.21" width="44.45" height="11.13" fill="#7790b0"/>
<rect x="665.3" y="866.21" width="44.45" height="11.13" fill="#2f58a9"/>
<rect x="221.3" y="877.3" width="44.45" height="11.13" fill="#95a7af"/>
<rect x="265.7" y="877.3" width="44.45" height="11.13" fill="#2f58a9"/>
<rect x="310.1" y="877.3" width="44.45" height="11.13" fill="#95a7af"/>
<rect x="354.5" y="877.3" width="44.45" height="11.13" fill="#2f58a9"/>
<rect x="398.9" y="877.3" width="44.45" height="11.13" fill="#95a7af"/>
<rect x="443.3" y="877.3" width="44.45" height="11.13" fill="#2f58a9"/>
<rect x="487.7" y="877.3" width="44.45" height="11.13" fill="#efc692"/>
<rect x="532.1" y="877.3" width="88.85" height="11.13" fill="#2f58a9"/>
<rect x="620.9" y="877.3" width="44.45" height="11.13" fill="#efc692"/>
<rect x="665.3" y="877.3" width="44.45" height="11.13" fill="#95a7af"/>
<rect x="221.3" y="888.38" width="88.85" height="11.13" fill="#4066ab"/>
<rect x="310.1" y="888.38" width="44.45" height="11.13" fill="#c8ceac"/>
<rect x="354.5" y="888.38" width="44.45" height="11.13" fill="#4066ab"/>
<rect x="398.9" y="888.38" width="44.45" height="11.13" fill="#c8ceac"/>
<rect x="443.3" y="888.38" width="44.45" height="11.13" fill="#4066ab"/>
<rect x="487.7" y="888.38" width="44.45" height="11.13" fill="#efc692"/>
<rect x="532.1" y="888.38" width="44.45" height="11.13" fill="#e6906c"/>
<rect x="576.5" y="888.38" width="44.45" height="11.13" fill="#4066ab"/>
<rect x="620.9" y="888.38" width="44.45" height="11.13" fill="#c8ceac"/>
<rect x="665.3" y="888.38" width="44.45" height="11.13" fill="#4066ab"/>
<rect x="221.3" y="899.46" width="133.25" height="11.13" fill="#2f58a9"/>
<rect x="354.5" y="899.46" width="44.45" height="11.13" fill="#efc692"/>
<rect x="398.9" y="899.46" width="44.45" height="11.13" fill="#b1beaf"/>
<rect x="443.3" y="899.46" width="44.45" height="11.13" fill="#2f58a9"/>
<rect x="487.7" y="899.46" width="44.45" height="11.13" fill="#efc692"/>
<rect x="532.1" y="899.46" width="44.45" height="11.13" fill="#4066ab"/>
<rect x="576.5" y="899.46" width="44.45" height="11.13" fill="#b1beaf"/>
<rect x="620.9" y="899.46" width="44.45" height="11.13" fill="#efc692"/>
<rect x="665.3" y="899.46" width="44.45" height="11.13" fill="#2f58a9"/>
<rect x="221.3" y="910.55" width="177.65" height="11.13" fill="#2f58a9"/>
<rect x="398.9" y="910.55" width="44.45" height="11.13" fill="#dfdfa9"/>
<rect x="443.3" y="910.55" width="44.45" height="11.13" fill="#2f58a9"/>
<rect x="487.7" y="910.55" width="44.45" height="11.13" fill="#dfdfa9"/>
<rect x="532.1" y="910.55" width="44.45" height="11.13" fill="#e0705a"/>
<rect x="576.5" y="910.55" width="88.85" height="11.13" fill="#95a7af"/>
<rect x="665.3" y="910.55" width="44.45" height="11.13" fill="#5274ad"/>
<rect x="221.3" y="921.63" width="88.85" height="11.13" fill="#5274ad"/>
<rect x="310.1" y="921.63" width="44.45" height="11.13" fill="#b1beaf"/>
<rect x="354.5" y="921.63" width="44.45" height="11.13" fill="#5274ad"/>
<rect x="398.9" y="921.63" width="44.45" height="11.13" fill="#e6906c"/>
<rect x="443.3" y="921.63" width="44.45" height="11.13" fill="#5274ad"/>
<rect x="487.7" y="921.63" width="44.45" height="11.13" fill="#e6906c"/>
<rect x="532.1" y="921.63" width="177.65" height="11.13" fill="#5274ad"/>
<rect x="221.3" y="932.71" width="177.65" height="11.13" fill="#5274ad"/>
<rect x="398.9" y="932.71" width="88.85" height="11.13" fill="#7790b0"/>
<rect x="487.7" y="932.71" width="44.45" height="11.13" fill="#95a7af"/>
<rect x="532.1" y="932.71" width="44.45" height="11.13" fill="#d02a20"/>
<rect x="576.5" y="932.71" width="44.45" height="11.13" fill="#c8ceac"/>
<rect x="620.9" y="932.71" width="44.45" height="11.13" fill="#7790b0"/>
<rect x="665.3" y="932.71" width="44.45" height="11.13" fill="#5274ad"/>
<rect x="221.3" y="943.8" width="177.65" height="11.13" fill="#4066ab"/>
<rect x="398.9" y="943.8" width="44.45" height="11.13" fill="#ebab80"/>
<rect x="443.3" y="943.8" width="44.45" height="11.13" fill="#4066ab"/>
<rect x="487.7" y="943.8" width="44.45" height="11.13" fill="#e6906c"/>
<rect x="532.1" y="943.8" width="44.45" height="11.13" fill="#c8ceac"/>
<rect x="576.5" y="943.8" width="133.25" height="11.13" fill="#4066ab"/>
<rect x="221.3" y="954.88" width="133.25" height="11.13" fill="#4066ab"/>
<rect x="354.5" y="954.88" width="44.45" height="11.13" fill="#c8ceac"/>
<rect x="398.9" y="954.88" width="44.45" height="11.13" fill="#efc692"/>
<rect x="443.3" y="954.88" width="44.45" height="11.13" fill="#4066ab"/>
<rect x="487.7" y="954.88" width="44.45" height="11.13" fill="#e6906c"/>
<rect x="532.1" y="954.88" width="44.45" height="11.13" fill="#c8ceac"/>
<rect x="576.5" y="954.88" width="88.85" height="11.13" fill="#4066ab"/>
<rect x="665.3" y="954.88" width="44.45" height="11.13" fill="#7790b0"/>
<rect x="221.3" y="965.96" width="44.45" height="11.13" fill="#2f58a9"/>
<rect x="265.7" y="965.96" width="44.45" height="11.13" fill="#7790b0"/>
<rect x="310.1" y="965.96" width="44.45" height="11.13" fill="#2f58a9"/>
<rect x="354.5" y="965.96" width="44.45" height="11.13" fill="#7790b0"/>
<rect x="398.9" y="965.96" width="44.45" height="11.13" fill="#c8ceac"/>
<rect x="443.3" y="965.96" width="44.45" height="11.13" fill="#2f58a9"/>
<rect x="487.7" y="965.96" width="44.45" height="11.13" fill="#f3daa0"/>
<rect x="532.1" y="965.96" width="44.45" height="11.13" fill="#2f58a9"/>
<rect x="576.5" y="965.96" width="44.45" height="11.13" fill="#c8ceac"/>
<rect x="620.9" y="965.96" width="44.45" height="11.13" fill="#e6906c"/>
<rect x="665.3" y="965.96" width="44.45" height="11.13" fill="#2f58a9"/>
<rect x="221.3" y="977.05" width="133.25" height="11.13" fill="#4066ab"/>
<rect x="354.5" y="977.05" width="88.85" height="11.13" fill="#b1beaf"/>
<rect x="443.3" y="977.05" width="44.45" height="11.13" fill="#4066ab"/>
<rect x="487.7" y="977.05" width="44.45" height="11.13" fill="#d84c3c"/>
<rect x="532.1" y="977.05" width="44.45" height="11.13" fill="#4066ab"/>
<rect x="576.5" y="977.05" width="88.85" height="11.13" fill="#b1beaf"/>
<rect x="665.3" y="977.05" width="44.45" height="11.13" fill="#4066ab"/>
<rect x="221.3" y="988.13" width="44.45" height="11.13" fill="#b1beaf"/>
<rect x="265.7" y="988.13" width="133.25" height="11.13" fill="#4066ab"/>
<rect x="398.9" y="988.13" width="44.45" height="11.13" fill="#f3daa0"/>
<rect x="443.3" y="988.13" width="44.45" height="11.13" fill="#4066ab"/>
<rect x="487.7" y="988.13" width="44.45" height="11.13" fill="#f3daa0"/>
<rect x="532.1" y="988.13" width="88.85" height="11.13" fill="#4066ab"/>
<rect x="620.9" y="988.13" width="44.45" height="11.13" fill="#e6906c"/>
<rect x="665.3" y="988.13" width="44.45" height="11.13" fill="#4066ab"/>
<rect x="221.3" y="999.21" width="88.85" height="11.13" fill="#4066ab"/>
<rect x="310.1" y="999.21" width="44.45" height="11.13" fill="#7790b0"/>
<rect x="354.5" y="999.21" width="88.85" height="11.13" fill="#95a7af"/>
<rect x="443.3" y="999.21" width="44.45" height="11.13" fill="#4066ab"/>
<rect x="487.7" y="999.21" width="44.45" height="11.13" fill="#95a7af"/>
<rect x="532.1" y="999.21" width="44.45" height="11.13" fill="#d02a20"/>
<rect x="576.5" y="999.21" width="133.25" height="11.13" fill="#4066ab"/>
<rect x="221.3" y="1010.3" width="88.85" height="11.13" fill="#4066ab"/>
<rect x="310.1" y="1010.3" width="88.85" height="11.13" fill="#7790b0"/>
<rect x="398.9" y="1010.3" width="44.45" height="11.13" fill="#b1beaf"/>
<rect x="443.3" y="1010.3" width="44.45" height="11.13" fill="#4066ab"/>
<rect x="487.7" y="1010.3" width="44.45" height="11.13" fill="#b1beaf"/>
<rect x="532.1" y="1010.3" width="44.45" height="11.13" fill="#d84c3c"/>
<rect x="576.5" y="1010.3" width="44.45" height="11.13" fill="#7790b0"/>
<rect x="620.9" y="1010.3" width="88.85" height="11.13" fill="#4066ab"/>
<rect x="221.3" y="1021.38" width="44.45" height="11.13" fill="#95a7af"/>
<rect x="265.7" y="1021.38" width="133.25" height="11.13" fill="#4066ab"/>
<rect x="398.9" y="1021.38" width="44.45" height="11.13" fill="#e0705a"/>
<rect x="443.3" y="1021.38" width="44.45" height="11.13" fill="#4066ab"/>
<rect x="487.7" y="1021.38" width="44.45" height="11.13" fill="#ebab80"/>
<rect x="532.1" y="1021.38" width="44.45" height="11.13" fill="#c8ceac"/>
<rect x="576.5" y="1021.38" width="88.85" height="11.13" fill="#7790b0"/>
<rect x="665.3" y="1021.38" width="44.45" height="11.13" fill="#5274ad"/>
<rect x="221.3" y="1032.46" width="44.45" height="11.13" fill="#95a7af"/>
<rect x="265.7" y="1032.46" width="44.45" height="11.13" fill="#f3daa0"/>
<rect x="310.1" y="1032.46" width="44.45" height="11.13" fill="#95a7af"/>
<rect x="354.5" y="1032.46" width="44.45" height="11.13" fill="#2f58a9"/>
<rect x="398.9" y="1032.46" width="44.45" height="11.13" fill="#95a7af"/>
<rect x="443.3" y="1032.46" width="44.45" height="11.13" fill="#2f58a9"/>
<rect x="487.7" y="1032.46" width="44.45" height="11.13" fill="#95a7af"/>
<rect x="532.1" y="1032.46" width="88.85" height="11.13" fill="#f3daa0"/>
<rect x="620.9" y="1032.46" width="44.45" height="11.13" fill="#95a7af"/>
<rect x="665.3" y="1032.46" width="44.45" height="11.13" fill="#2f58a9"/>
<rect x="221.3" y="1043.55" width="44.45" height="11.13" fill="#4066ab"/>
<rect x="265.7" y="1043.55" width="44.45" height="11.13" fill="#95a7af"/>
<rect x="310.1" y="1043.55" width="88.85" height="11.13" fill="#4066ab"/>
<rect x="398.9" y="1043.55" width="44.45" height="11.13" fill="#95a7af"/>
<rect x="443.3" y="1043.55" width="44.45" height="11.13" fill="#4066ab"/>
<rect x="487.7" y="1043.55" width="44.45" height="11.13" fill="#95a7af"/>
<rect x="532.1" y="1043.55" width="44.45" height="11.13" fill="#4066ab"/>
<rect x="576.5" y="1043.55" width="44.45" height="11.13" fill="#f3daa0"/>
<rect x="620.9" y="1043.55" width="44.45" height="11.13" fill="#95a7af"/>
<rect x="665.3" y="1043.55" width="44.45" height="11.13" fill="#e0705a"/>
<rect x="221.3" y="1054.63" width="44.45" height="11.13" fill="#7790b0"/>
<rect x="265.7" y="1054.63" width="44.45" height="11.13" fill="#2f58a9"/>
<rect x="310.1" y="1054.63" width="44.45" height="11.13" fill="#f3daa0"/>
<rect x="354.5" y="1054.63" width="44.45" height="11.13" fill="#c8ceac"/>
<rect x="398.9" y="1054.63" width="44.45" height="11.13" fill="#7790b0"/>
<rect x="443.3" y="1054.63" width="88.85" height="11.13" fill="#2f58a9"/>
<rect x="532.1" y="1054.63" width="44.45" height="11.13" fill="#e6906c"/>
<rect x="576.5" y="1054.63" width="44.45" height="11.13" fill="#b1beaf"/>
<rect x="620.9" y="1054.63" width="44.45" height="11.13" fill="#7790b0"/>
<rect x="665.3" y="1054.63" width="44.45" height="11.13" fill="#b1beaf"/>
<rect x="221.3" y="1065.72" width="44.45" height="11.13" fill="#4066ab"/>
<rect x="265.7" y="1065.72" width="44.45" height="11.13" fill="#5274ad"/>
<rect x="310.1" y="1065.72" width="44.45" height="11.13" fill="#d84c3c"/>
<rect x="354.5" y="1065.72" width="44.45" height="11.13" fill="#5274ad"/>
<rect x="398.9" y="1065.72" width="44.45" height="11.13" fill="#7790b0"/>
<rect x="443.3" y="1065.72" width="44.45" height="11.13" fill="#4066ab"/>
<rect x="487.7" y="1065.72" width="44.45" height="11.13" fill="#7790b0"/>
<rect x="532.1" y="1065.72" width="44.45" height="11.13" fill="#f3e9a8"/>
<rect x="576.5" y="1065.72" width="88.85" height="11.13" fill="#95a7af"/>
<rect x="665.3" y="1065.72" width="44.45" height="11.13" fill="#4066ab"/>
<rect x="221.3" y="1076.8" width="44.45" height="11.13" fill="#95a7af"/>
<rect x="265.7" y="1076.8" width="88.85" height="11.13" fill="#4066ab"/>
<rect x="354.5" y="1076.8" width="88.85" height="11.13" fill="#95a7af"/>
<rect x="443.3" y="1076.8" width="44.45" height="11.13" fill="#4066ab"/>
<rect x="487.7" y="1076.8" width="44.45" height="11.13" fill="#95a7af"/>
<rect x="532.1" y="1076.8" width="44.45" height="11.13" fill="#d84c3c"/>
<rect x="576.5" y="1076.8" width="44.45" height="11.13" fill="#95a7af"/>
<rect x="620.9" y="1076.8" width="88.85" height="11.13" fill="#4066ab"/>
<rect x="221.3" y="1087.88" width="88.85" height="11.13" fill="#c8ceac"/>
<rect x="310.1" y="1087.88" width="88.85" height="11.13" fill="#4066ab"/>
<rect x="398.9" y="1087.88" width="44.45" height="11.13" fill="#c8ceac"/>
<rect x="443.3" y="1087.88" width="44.45" height="11.13" fill="#4066ab"/>
<rect x="487.7" y="1087.88" width="44.45" height="11.13" fill="#e6906c"/>
<rect x="532.1" y="1087.88" width="44.45" height="11.13" fill="#4066ab"/>
<rect x="576.5" y="1087.88" width="88.85" height="11.13" fill="#c8ceac"/>
<rect x="665.3" y="1087.88" width="44.45" height="11.13" fill="#4066ab"/>
<rect x="221.3" y="1098.97" width="44.45" height="11.13" fill="#4066ab"/>
<rect x="265.7" y="1098.97" width="44.45" height="11.13" fill="#7790b0"/>
<rect x="310.1" y="1098.97" width="44.45" height="11.13" fill="#c8ceac"/>
<rect x="354.5" y="1098.97" width="44.45" height="11.13" fill="#4066ab"/>
<rect x="398.9" y="1098.97" width="44.45" height="11.13" fill="#c8ceac"/>
<rect x="443.3" y="1098.97" width="44.45" height="11.13" fill="#4066ab"/>
<rect x="487.7" y="1098.97" width="44.45" height="11.13" fill="#b1beaf"/>
<rect x="532.1" y="1098.97" width="44.45" height="11.13" fill="#d84c3c"/>
<rect x="576.5" y="1098.97" width="133.25" height="11.13" fill="#4066ab"/>
<rect x="221.3" y="1110.05" width="177.65" height="11.13" fill="#4066ab"/>
<rect x="398.9" y="1110.05" width="44.45" height="11.13" fill="#f3e9a8"/>
<rect x="443.3" y="1110.05" width="44.45" height="11.13" fill="#4066ab"/>
<rect x="487.7" y="1110.05" width="44.45" height="11.13" fill="#f3e9a8"/>
<rect x="532.1" y="1110.05" width="44.45" height="11.13" fill="#4066ab"/>
<rect x="576.5" y="1110.05" width="133.25" height="11.13" fill="#f3e9a8"/>
<rect x="221.3" y="1121.13" width="177.65" height="11.13" fill="#4066ab"/>
<rect x="398.9" y="1121.13" width="44.45" height="11.13" fill="#ebab80"/>
<rect x="443.3" y="1121.13" width="44.45" height="11.13" fill="#4066ab"/>
<rect x="487.7" y="1121.13" width="44.45" height="11.13" fill="#c8ceac"/>
<rect x="532.1" y="1121.13" width="44.45" height="11.13" fill="#ebab80"/>
<rect x="576.5" y="1121.13" width="88.85" height="11.13" fill="#4066ab"/>
<rect x="665.3" y="1121.13" width="44.45" height="11.13" fill="#c8ceac"/>
<rect x="221.3" y="1132.22" width="88.85" height="11.13" fill="#4066ab"/>
<rect x="310.1" y="1132.22" width="44.45" height="11.13" fill="#7790b0"/>
<rect x="354.5" y="1132.22" width="44.45" height="11.13" fill="#4066ab"/>
<rect x="398.9" y="1132.22" width="44.45" height="11.13" fill="#ebab80"/>
<rect x="443.3" y="1132.22" width="44.45" height="11.13" fill="#4066ab"/>
<rect x="487.7" y="1132.22" width="44.45" height="11.13" fill="#f3e9a8"/>
<rect x="532.1" y="1132.22" width="44.45" height="11.13" fill="#ebab80"/>
<rect x="576.5" y="1132.22" width="44.45" height="11.13" fill="#b1beaf"/>
<rect x="620.9" y="1132.22" width="88.85" height="11.13" fill="#4066ab"/>
</g>
<path d="M221.3 68.2H709.7M221.3 79.28H709.7M221.3 90.37H709.7M221.3 101.45H709.7M221.3 112.53H709.7M221.3 123.62H709.7M221.3 134.7H709.7M221.3 145.78H709.7M221.3 156.87H709.7M221.3 167.95H709.7M221.3 179.04H709.7M221.3 190.12H709.7M221.3 201.2H709.7M221.3 212.29H709.7M221.3 223.37H709.7M221.3 234.45H709.7M221.3 245.54H709.7M221.3 256.62H709.7M221.3 267.7H709.7M221.3 278.79H709.7M221.3 289.87H709.7M221.3 300.95H709.7M221.3 312.04H709.7M221.3 323.12H709.7M221.3 334.2H709.7M221.3 345.29H709.7M221.3 356.37H709.7M221.3 367.45H709.7M221.3 378.54H709.7M221.3 389.62H709.7M221.3 400.71H709.7M221.3 411.79H709.7M221.3 422.87H709.7M221.3 433.96H709.7M221.3 445.04H709.7M221.3 456.12H709.7M221.3 467.21H709.7M221.3 478.29H709.7M221.3 489.37H709.7M221.3 500.46H709.7M221.3 511.54H709.7M221.3 522.62H709.7M221.3 533.71H709.7M221.3 544.79H709.7M221.3 555.87H709.7M221.3 566.96H709.7M221.3 578.04H709.7M221.3 589.12H709.7M221.3 600.21H709.7M221.3 611.29H709.7M221.3 622.38H709.7M221.3 633.46H709.7M221.3 644.54H709.7M221.3 655.63H709.7M221.3 666.71H709.7M221.3 677.79H709.7M221.3 688.88H709.7M221.3 699.96H709.7M221.3 711.04H709.7M221.3 722.13H709.7M221.3 733.21H709.7M221.3 744.29H709.7M221.3 755.38H709.7M221.3 766.46H709.7M221.3 777.54H709.7M221.3 788.63H709.7M221.3 799.71H709.7M221.3 810.79H709.7M221.3 821.88H709.7M221.3 832.96H709.7M221.3 844.05H709.7M221.3 855.13H709.7M221.3 866.21H709.7M221.3 877.3H709.7M221.3 888.38H709.7M221.3 899.46H709.7M221.3 910.55H709.7M221.3 921.63H709.7M221.3 932.71H709.7M221.3 943.8H709.7M221.3 954.88H709.7M221.3 965.96H709.7M221.3 977.05H709.7M221.3 988.13H709.7M221.3 999.21H709.7M221.3 1010.3H709.7M221.3 1021.38H709.7M221.3 1032.46H709.7M221.3 1043.55H709.7M221.3 1054.63H709.7M221.3 1065.72H709.7M221.3 1076.8H709.7M221.3 1087.88H709.7M221.3 1098.97H709.7M221.3 1110.05H709.7M221.3 1121.13H709.7M221.3 1132.22H709.7M221.3 1143.3H709.7" stroke="#fff" stroke-opacity="0.3" stroke-width="4.2" fill="none"/>
<path d="M221.3 66.2V1145.3M265.7 66.2V1145.3M310.1 66.2V1145.3M354.5 66.2V1145.3M398.9 66.2V1145.3M443.3 66.2V1145.3M487.7 66.2V1145.3M532.1 66.2V1145.3M576.5 66.2V1145.3M620.9 66.2V1145.3M665.3 66.2V1145.3M709.7 66.2V1145.3" stroke="#fff" stroke-opacity="0.7" stroke-width="2.2" fill="none"/>
<g font-family="'Liberation Sans',Arial,sans-serif" font-size="12.9" font-weight="bold" fill="#000" stroke="#000" stroke-width="0.1" text-anchor="end">
<text x="193.5" y="78.04">AflaC1G00546</text>
<text x="193.5" y="89.13">AflaC1G00515</text>
<text x="193.5" y="100.21">AflaC1G00595</text>
<text x="193.5" y="111.29">AflaC1G00713</text>
<text x="193.5" y="122.38">AflaC1G00824</text>
<text x="193.5" y="133.46">AflaC1G00891</text>
<text x="193.5" y="144.54">AflaC1G01355</text>
<text x="193.5" y="155.63">AflaC1G01878</text>
<text x="193.5" y="166.71">AflaC1G02772</text>
<text x="193.5" y="177.79">AflaC1G03115</text>
<text x="193.5" y="188.88">AflaC1G03354</text>
<text x="193.5" y="199.96">AflaC1G03545</text>
<text x="193.5" y="211.04">AflaC1G03672</text>
<text x="193.5" y="222.13">AflaC1G04276</text>
<text x="193.5" y="233.21">AflaC1G04509</text>
<text x="193.5" y="244.29">AflaC1G04894</text>
<text x="193.5" y="255.38">AflaC2G00604</text>
<text x="193.5" y="266.46">AflaC2G00626</text>
<text x="193.5" y="277.54">AflaC2G00692</text>
<text x="193.5" y="288.63">AflaC2G00863</text>
<text x="193.5" y="299.71">AflaC2G01134</text>
<text x="193.5" y="310.8">AflaC2G01948</text>
<text x="193.5" y="321.88">AflaC2G02091</text>
<text x="193.5" y="332.96">AflaC2G03369</text>
<text x="193.5" y="344.05">AflaC2G03597</text>
<text x="193.5" y="355.13">AflaC2G04634</text>
<text x="193.5" y="366.21">AflaC2G04752</text>
<text x="193.5" y="377.3">AflaC2G04847</text>
<text x="193.5" y="388.38">AflaC2G04895</text>
<text x="193.5" y="399.46">AflaC2G04916</text>
<text x="193.5" y="410.55">AflaC3G00501</text>
<text x="193.5" y="421.63">AflaC3G00526</text>
<text x="193.5" y="432.71">AflaC3G01084</text>
<text x="193.5" y="443.8">AflaC3G01210</text>
<text x="193.5" y="454.88">AflaC3G01301</text>
<text x="193.5" y="465.96">AflaC3G01931</text>
<text x="193.5" y="477.05">AflaC3G02492</text>
<text x="193.5" y="488.13">AflaC3G02647</text>
<text x="193.5" y="499.21">AflaC3G03553</text>
<text x="193.5" y="510.3">AflaC3G04549</text>
<text x="193.5" y="521.38">AflaC3G04680</text>
<text x="193.5" y="532.47">AflaC3G04709</text>
<text x="193.5" y="543.55">AflaC3G04796</text>
<text x="193.5" y="554.63">AflaC4G00608</text>
<text x="193.5" y="565.72">AflaC4G00634</text>
<text x="193.5" y="576.8">AflaC4G00918</text>
<text x="193.5" y="587.88">AflaC4G00964</text>
<text x="193.5" y="598.97">AflaC4G01600</text>
<text x="193.5" y="610.05">AflaC4G01659</text>
<text x="193.5" y="621.13">AflaC4G03170</text>
<text x="193.5" y="632.22">AflaC4G04607</text>
<text x="193.5" y="643.3">AflaC4G04743</text>
<text x="193.5" y="654.38">AflaC4G04799</text>
<text x="193.5" y="665.47">AflaC4G04884</text>
<text x="193.5" y="676.55">AflaC4G05190</text>
<text x="193.5" y="687.63">AflaC5G01592</text>
<text x="193.5" y="698.72">AflaC5G01807</text>
<text x="193.5" y="709.8">AflaC5G02155</text>
<text x="193.5" y="720.89">AflaC5G02575</text>
<text x="193.5" y="731.97">AflaC5G02693</text>
<text x="193.5" y="743.05">AflaC5G03082</text>
<text x="193.5" y="754.14">AflaC5G03622</text>
<text x="193.5" y="765.22">AflaC5G03832</text>
<text x="193.5" y="776.3">AflaC5G03934</text>
<text x="193.5" y="787.39">AflaC5G04186</text>
<text x="193.5" y="798.47">AflaC5G04475</text>
<text x="193.5" y="809.55">AflaC5G04916</text>
<text x="193.5" y="820.64">AflaC6G00719</text>
<text x="193.5" y="831.72">AflaC6G00790</text>
<text x="193.5" y="842.8">AflaC6G02119</text>
<text x="193.5" y="853.89">AflaC6G02478</text>
<text x="193.5" y="864.97">AflaC6G02579</text>
<text x="193.5" y="876.05">AflaC6G02933</text>
<text x="193.5" y="887.14">AflaC6G03796</text>
<text x="193.5" y="898.22">AflaC6G04175</text>
<text x="193.5" y="909.3">AflaC6G04422</text>
<text x="193.5" y="920.39">AflaC6G04825</text>
<text x="193.5" y="931.47">AflaC6G05108</text>
<text x="193.5" y="942.56">AflaC7G00441</text>
<text x="193.5" y="953.64">AflaC7G00755</text>
<text x="193.5" y="964.72">AflaC7G01087</text>
<text x="193.5" y="975.81">AflaC7G01365</text>
<text x="193.5" y="986.89">AflaC7G01471</text>
<text x="193.5" y="997.97">AflaC7G02922</text>
<text x="193.5" y="1009.06">AflaC7G03545</text>
<text x="193.5" y="1020.14">AflaC7G03574</text>
<text x="193.5" y="1031.22">AflaC7G04125</text>
<text x="193.5" y="1042.31">AflaC7G04313</text>
<text x="193.5" y="1053.39">AflaC8G02690</text>
<text x="193.5" y="1064.47">AflaC8G02906</text>
<text x="193.5" y="1075.56">AflaC8G02988</text>
<text x="193.5" y="1086.64">AflaC8G03857</text>
<text x="193.5" y="1097.72">AflaC8G04188</text>
<text x="193.5" y="1108.81">AflaC8G04691</text>
<text x="193.5" y="1119.89">AflaC8G04814</text>
<text x="193.5" y="1130.97">AflaC8G04870</text>
<text x="193.5" y="1142.06">AflaC8G04989</text>
</g>
<g font-family="'Liberation Sans',Arial,sans-serif" font-size="15.6" fill="#262626" stroke="#262626" stroke-width="0.45" text-anchor="end">
<text transform="translate(243.9,1174.3) rotate(-45)" x="0" y="0">Defense and stress responsiveness</text>
<text transform="translate(288.6,1172.3) rotate(-45)" x="0" y="0">Gibberellin responsiveness</text>
<text transform="translate(340.6,1167.7) rotate(-45)" x="0" y="0">Low-temperature responsiveness</text>
<text transform="translate(379.3,1166) rotate(-45)" x="0" y="0">SA-responsiveness</text>
<text transform="translate(429.1,1169.1) rotate(-45)" x="0" y="0">ABA-responsiveness</text>
<text transform="translate(467.1,1169.1) rotate(-45)" x="0" y="0">Auxin responsiveness</text>
<text transform="translate(507.2,1173.2) rotate(-45)" x="0" y="0">cis-acting regulatory element in light responsiveness</text>
<text transform="translate(560,1166.5) rotate(-45)" x="0" y="0">MeJA-responsiveness</text>
<text transform="translate(600.3,1170.3) rotate(-45)" x="0" y="0">Light responsive element</text>
<text transform="translate(640.9,1174.8) rotate(-45)" x="0" y="0">MYB binding site involved in drought inducibility</text>
<text transform="translate(694.6,1168.9) rotate(-45)" x="0" y="0">MYB binding site involved in light responsiveness</text>
</g>
<defs><linearGradient id="gA" x1="0" y1="0" x2="0" y2="1"><stop offset="0" stop-color="#d11515"/><stop offset="0.1" stop-color="#d93f31"/><stop offset="0.3" stop-color="#e88a62"/><stop offset="0.42" stop-color="#f2c48f"/><stop offset="0.5" stop-color="#f6eda5"/><stop offset="0.6" stop-color="#c9cfae"/><stop offset="0.7" stop-color="#93a5b1"/><stop offset="0.8" stop-color="#6a88b0"/><stop offset="0.9" stop-color="#3459ad"/><stop offset="1" stop-color="#0c32ab"/></linearGradient></defs>
<rect x="759.7" y="70" width="17" height="128.5" fill="url(#gA)"/>
<line x1="777.3" y1="70" x2="777.3" y2="198.5" stroke="#555" stroke-width="1.2"/>
<g font-family="'Liberation Sans',Arial,sans-serif" font-size="11.2" fill="#444">
<line x1="776.5" y1="70" x2="780" y2="70" stroke="#444" stroke-width="1"/>
<text x="781.5" y="73.9">3.50</text>
<line x1="776.5" y1="82.85" x2="780" y2="82.85" stroke="#444" stroke-width="1"/>
<text x="781.5" y="86.75">3.00</text>
<line x1="776.5" y1="95.7" x2="780" y2="95.7" stroke="#444" stroke-width="1"/>
<text x="781.5" y="99.6">2.50</text>
<line x1="776.5" y1="108.55" x2="780" y2="108.55" stroke="#444" stroke-width="1"/>
<text x="781.5" y="112.45">2.00</text>
<line x1="776.5" y1="121.4" x2="780" y2="121.4" stroke="#444" stroke-width="1"/>
<text x="781.5" y="125.3">1.50</text>
<line x1="776.5" y1="134.25" x2="780" y2="134.25" stroke="#444" stroke-width="1"/>
<text x="781.5" y="138.15">1.00</text>
<line x1="776.5" y1="147.1" x2="780" y2="147.1" stroke="#444" stroke-width="1"/>
<text x="781.5" y="151">0.50</text>
<line x1="776.5" y1="159.95" x2="780" y2="159.95" stroke="#444" stroke-width="1"/>
<text x="781.5" y="163.85">0.00</text>
<line x1="776.5" y1="172.8" x2="780" y2="172.8" stroke="#444" stroke-width="1"/>
<text x="779.5" y="176.7">-0.50</text>
<line x1="776.5" y1="185.65" x2="780" y2="185.65" stroke="#444" stroke-width="1"/>
<text x="779.5" y="189.55">-1.00</text>
<line x1="776.5" y1="198.5" x2="780" y2="198.5" stroke="#444" stroke-width="1"/>
<text x="779.5" y="202.4">-1.50</text>
</g>
</g>
<g id="panelB">
<text x="923" y="74" font-family="'Liberation Serif',serif" font-size="79" fill="#000">B</text>
<path d="M1213.2 212.4V129.7H1313.73V212.4M1112.67 212.4V119.2H1263.47V129.7M1514.8 212.4V150.4H1615.33V212.4M1414.27 212.4V111H1565.07V150.4M1188.07 119.2V71.3H1489.67V111" fill="none" stroke="#5c5c5c" stroke-width="2.5" stroke-linejoin="miter"/>
<path d="M1035.5 234.61H1018.7V249.42H1035.5M1035.5 219.8H1010.78V242.02H1018.7M1035.5 264.23H1028.44V279.04H1035.5M1035.5 308.66H1028.44V323.47H1035.5M1035.5 338.28H1028.44V353.09H1035.5M1028.44 316.07H1020.52V345.69H1028.44M1035.5 293.85H1018.09V330.88H1020.52M1028.44 271.64H1013.82V312.37H1018.09M1035.5 412.33H1028.44V427.14H1035.5M1035.5 397.52H1021.13V419.74H1028.44M1035.5 382.71H1019.91V408.63H1021.13M1035.5 367.9H1008.34V395.67H1019.91M1013.82 292H1006.51V381.79H1008.34M1010.78 230.91H998.59V336.89H1006.51M1035.5 456.76H1030.88V471.57H1035.5M1035.5 441.95H1026.01V464.17H1030.88M1035.5 501.19H1030.27V516H1035.5M1035.5 486.38H1023.57V508.59H1030.27M1026.01 453.06H1021.13V497.49H1023.57M1035.5 545.62H1030.88V560.43H1035.5M1035.5 575.24H1026.62V590.05H1035.5M1030.88 553.02H1022.35V582.64H1026.62M1035.5 530.81H1020.52V567.83H1022.35M1021.13 475.27H1012.6V549.32H1020.52M1035.5 604.86H1027.23V619.67H1035.5M1035.5 634.48H1026.01V649.29H1035.5M1027.23 612.26H1020.52V641.88H1026.01M1035.5 678.91H1026.01V693.72H1035.5M1035.5 664.1H1020.52V686.31H1026.01M1020.52 627.07H1010.17V675.2H1020.52M1012.6 512.3H1006.51V651.14H1010.17M1035.5 708.53H1019.31V723.34H1035.5M1035.5 738.15H1025.4V752.95H1035.5M1035.5 767.76H1023.57V782.57H1035.5M1025.4 745.55H1018.09V775.17H1023.57M1035.5 827H1027.23V841.81H1035.5M1035.5 812.19H1026.01V834.41H1027.23M1035.5 797.38H1018.09V823.3H1026.01M1018.09 760.36H1013.21V810.34H1018.09M1019.31 715.93H1006.51V785.35H1013.21M1006.51 581.72H995.55V750.64H1006.51M998.59 283.9H984.58V666.18H995.55M1035.5 871.43H1017.48V886.24H1035.5M1035.5 856.62H1015.65V878.84H1017.48M1035.5 901.05H1024.18V915.86H1035.5M1035.5 930.67H1024.79V945.48H1035.5M1035.5 960.29H1027.23V975.1H1035.5M1035.5 989.91H1027.23V1004.72H1035.5M1027.23 967.7H1020.52V997.32H1027.23M1024.79 938.08H1015.65V982.51H1020.52M1024.18 908.46H1007.12V960.29H1015.65M1015.65 867.73H991.89V934.37H1007.12M1035.5 1019.53H1024.18V1034.34H1035.5M1035.5 1063.96H1032.71V1078.77H1035.5M1035.5 1049.15H1024.18V1071.36H1032.71M1024.18 1026.93H1019.31V1060.26H1024.18M1035.5 1093.58H1016.26V1108.39H1035.5M1019.31 1043.6H1004.07V1100.98H1016.26M1035.5 1138.01H1033.93V1152.82H1035.5M1035.5 1123.2H1020.52V1145.41H1033.93M1035.5 1182.44H1023.57V1197.25H1035.5M1035.5 1167.63H1015.04V1189.84H1023.57M1020.52 1134.31H1012.6V1178.73H1015.04M1035.5 1226.87H1024.79V1241.68H1035.5M1035.5 1256.49H1021.13V1271.3H1035.5M1024.79 1234.27H1016.26V1263.89H1021.13M1035.5 1212.06H1006.51V1249.08H1016.26M1012.6 1156.52H1001.64V1230.57H1006.51M1004.07 1072.29H986.41V1193.54H1001.64M991.89 901.05H965.69V1132.92H986.41M984.58 475.04H928.53V1016.98H965.69" fill="none" stroke="#5c5c5c" stroke-width="2.5" stroke-linejoin="miter"/>
<rect x="1037.3" y="212.4" width="19.6" height="14.86" fill="#ff7c7c"/>
<rect x="1037.3" y="227.21" width="19.6" height="14.86" fill="#cccccc"/>
<rect x="1037.3" y="242.02" width="19.6" height="14.86" fill="#ff7c7c"/>
<rect x="1037.3" y="256.83" width="19.6" height="14.86" fill="#cccccc"/>
<rect x="1037.3" y="271.64" width="19.6" height="14.86" fill="#ff7c7c"/>
<rect x="1037.3" y="286.45" width="19.6" height="14.86" fill="#cccccc"/>
<rect x="1037.3" y="301.26" width="19.6" height="14.86" fill="#cccccc"/>
<rect x="1037.3" y="316.07" width="19.6" height="14.86" fill="#ff7c7c"/>
<rect x="1037.3" y="330.88" width="19.6" height="14.86" fill="#cccccc"/>
<rect x="1037.3" y="345.69" width="19.6" height="14.86" fill="#ff7c7c"/>
<rect x="1037.3" y="360.5" width="19.6" height="14.86" fill="#cccccc"/>
<rect x="1037.3" y="375.31" width="19.6" height="14.86" fill="#ff7c7c"/>
<rect x="1037.3" y="390.12" width="19.6" height="14.86" fill="#cccccc"/>
<rect x="1037.3" y="404.93" width="19.6" height="14.86" fill="#cccccc"/>
<rect x="1037.3" y="419.74" width="19.6" height="14.86" fill="#cccccc"/>
<rect x="1037.3" y="434.55" width="19.6" height="14.86" fill="#ff7c7c"/>
<rect x="1037.3" y="449.36" width="19.6" height="14.86" fill="#cccccc"/>
<rect x="1037.3" y="464.17" width="19.6" height="14.86" fill="#cccccc"/>
<rect x="1037.3" y="478.98" width="19.6" height="14.86" fill="#ff7c7c"/>
<rect x="1037.3" y="493.78" width="19.6" height="14.86" fill="#ff7c7c"/>
<rect x="1037.3" y="508.59" width="19.6" height="14.86" fill="#ff7c7c"/>
<rect x="1037.3" y="523.4" width="19.6" height="14.86" fill="#cccccc"/>
<rect x="1037.3" y="538.21" width="19.6" height="14.86" fill="#ff7c7c"/>
<rect x="1037.3" y="553.02" width="19.6" height="14.86" fill="#ff7c7c"/>
<rect x="1037.3" y="567.83" width="19.6" height="14.86" fill="#ff7c7c"/>
<rect x="1037.3" y="582.64" width="19.6" height="14.86" fill="#ff7c7c"/>
<rect x="1037.3" y="597.45" width="19.6" height="14.86" fill="#ff7c7c"/>
<rect x="1037.3" y="612.26" width="19.6" height="14.86" fill="#ff7c7c"/>
<rect x="1037.3" y="627.07" width="19.6" height="14.86" fill="#cccccc"/>
<rect x="1037.3" y="641.88" width="19.6" height="14.86" fill="#ff7c7c"/>
<rect x="1037.3" y="656.69" width="19.6" height="14.86" fill="#cccccc"/>
<rect x="1037.3" y="671.5" width="19.6" height="14.86" fill="#cccccc"/>
<rect x="1037.3" y="686.31" width="19.6" height="14.86" fill="#cccccc"/>
<rect x="1037.3" y="701.12" width="19.6" height="14.86" fill="#cccccc"/>
<rect x="1037.3" y="715.93" width="19.6" height="14.86" fill="#cccccc"/>
<rect x="1037.3" y="730.74" width="19.6" height="14.86" fill="#cccccc"/>
<rect x="1037.3" y="745.55" width="19.6" height="14.86" fill="#ff7c7c"/>
<rect x="1037.3" y="760.36" width="19.6" height="14.86" fill="#ff7c7c"/>
<rect x="1037.3" y="775.17" width="19.6" height="14.86" fill="#ff7c7c"/>
<rect x="1037.3" y="789.98" width="19.6" height="14.86" fill="#ff7c7c"/>
<rect x="1037.3" y="804.79" width="19.6" height="14.86" fill="#cccccc"/>
<rect x="1037.3" y="819.6" width="19.6" height="14.86" fill="#ff7c7c"/>
<rect x="1037.3" y="834.41" width="19.6" height="14.86" fill="#ff7c7c"/>
<rect x="1037.3" y="849.22" width="19.6" height="14.86" fill="#cccccc"/>
<rect x="1037.3" y="864.03" width="19.6" height="14.86" fill="#cccccc"/>
<rect x="1037.3" y="878.84" width="19.6" height="14.86" fill="#ff7c7c"/>
<rect x="1037.3" y="893.65" width="19.6" height="14.86" fill="#cccccc"/>
<rect x="1037.3" y="908.46" width="19.6" height="14.86" fill="#ff7c7c"/>
<rect x="1037.3" y="923.27" width="19.6" height="14.86" fill="#cccccc"/>
<rect x="1037.3" y="938.08" width="19.6" height="14.86" fill="#ff7c7c"/>
<rect x="1037.3" y="952.89" width="19.6" height="14.86" fill="#ff7c7c"/>
<rect x="1037.3" y="967.7" width="19.6" height="14.86" fill="#ff7c7c"/>
<rect x="1037.3" y="982.51" width="19.6" height="14.86" fill="#cccccc"/>
<rect x="1037.3" y="997.32" width="19.6" height="14.86" fill="#cccccc"/>
<rect x="1037.3" y="1012.12" width="19.6" height="14.86" fill="#cccccc"/>
<rect x="1037.3" y="1026.93" width="19.6" height="14.86" fill="#ff7c7c"/>
<rect x="1037.3" y="1041.74" width="19.6" height="14.86" fill="#ff7c7c"/>
<rect x="1037.3" y="1056.55" width="19.6" height="14.86" fill="#ff7c7c"/>
<rect x="1037.3" y="1071.36" width="19.6" height="14.86" fill="#ff7c7c"/>
<rect x="1037.3" y="1086.17" width="19.6" height="14.86" fill="#ff7c7c"/>
<rect x="1037.3" y="1100.98" width="19.6" height="14.86" fill="#ff7c7c"/>
<rect x="1037.3" y="1115.79" width="19.6" height="14.86" fill="#ff7c7c"/>
<rect x="1037.3" y="1130.6" width="19.6" height="14.86" fill="#cccccc"/>
<rect x="1037.3" y="1145.41" width="19.6" height="14.86" fill="#cccccc"/>
<rect x="1037.3" y="1160.22" width="19.6" height="14.86" fill="#cccccc"/>
<rect x="1037.3" y="1175.03" width="19.6" height="14.86" fill="#ff7c7c"/>
<rect x="1037.3" y="1189.84" width="19.6" height="14.86" fill="#ff7c7c"/>
<rect x="1037.3" y="1204.65" width="19.6" height="14.86" fill="#ff7c7c"/>
<rect x="1037.3" y="1219.46" width="19.6" height="14.86" fill="#cccccc"/>
<rect x="1037.3" y="1234.27" width="19.6" height="14.86" fill="#cccccc"/>
<rect x="1037.3" y="1249.08" width="19.6" height="14.86" fill="#cccccc"/>
<rect x="1037.3" y="1263.89" width="19.6" height="14.86" fill="#ff7c7c"/>
<path d="M1036.6 212.4H1057.6M1036.6 227.21H1057.6M1036.6 242.02H1057.6M1036.6 256.83H1057.6M1036.6 271.64H1057.6M1036.6 286.45H1057.6M1036.6 301.26H1057.6M1036.6 316.07H1057.6M1036.6 330.88H1057.6M1036.6 345.69H1057.6M1036.6 360.5H1057.6M1036.6 375.31H1057.6M1036.6 390.12H1057.6M1036.6 404.93H1057.6M1036.6 419.74H1057.6M1036.6 434.55H1057.6M1036.6 449.36H1057.6M1036.6 464.17H1057.6M1036.6 478.98H1057.6M1036.6 493.78H1057.6M1036.6 508.59H1057.6M1036.6 523.4H1057.6M1036.6 538.21H1057.6M1036.6 553.02H1057.6M1036.6 567.83H1057.6M1036.6 582.64H1057.6M1036.6 597.45H1057.6M1036.6 612.26H1057.6M1036.6 627.07H1057.6M1036.6 641.88H1057.6M1036.6 656.69H1057.6M1036.6 671.5H1057.6M1036.6 686.31H1057.6M1036.6 701.12H1057.6M1036.6 715.93H1057.6M1036.6 730.74H1057.6M1036.6 745.55H1057.6M1036.6 760.36H1057.6M1036.6 775.17H1057.6M1036.6 789.98H1057.6M1036.6 804.79H1057.6M1036.6 819.6H1057.6M1036.6 834.41H1057.6M1036.6 849.22H1057.6M1036.6 864.03H1057.6M1036.6 878.84H1057.6M1036.6 893.65H1057.6M1036.6 908.46H1057.6M1036.6 923.27H1057.6M1036.6 938.08H1057.6M1036.6 952.89H1057.6M1036.6 967.7H1057.6M1036.6 982.51H1057.6M1036.6 997.32H1057.6M1036.6 1012.12H1057.6M1036.6 1026.93H1057.6M1036.6 1041.74H1057.6M1036.6 1056.55H1057.6M1036.6 1071.36H1057.6M1036.6 1086.17H1057.6M1036.6 1100.98H1057.6M1036.6 1115.79H1057.6M1036.6 1130.6H1057.6M1036.6 1145.41H1057.6M1036.6 1160.22H1057.6M1036.6 1175.03H1057.6M1036.6 1189.84H1057.6M1036.6 1204.65H1057.6M1036.6 1219.46H1057.6M1036.6 1234.27H1057.6M1036.6 1249.08H1057.6M1036.6 1263.89H1057.6M1036.6 1278.7H1057.6" stroke="#a8a8a8" stroke-opacity="0.75" stroke-width="3.2" fill="none"/>
<path d="M1037.3 212.4V1278.7M1056.9 212.4V1278.7" stroke="#5a5a5a" stroke-opacity="0.25" stroke-width="2.4" fill="none"/>
<rect x="1062.4" y="212.4" width="100.58" height="14.86" fill="#8c8cff"/>
<rect x="1162.93" y="212.4" width="100.58" height="14.86" fill="#8c8cff"/>
<rect x="1263.47" y="212.4" width="100.58" height="14.86" fill="#6666ff"/>
<rect x="1364" y="212.4" width="100.58" height="14.86" fill="#bfbfff"/>
<rect x="1464.53" y="212.4" width="100.58" height="14.86" fill="#8c8cff"/>
<rect x="1565.07" y="212.4" width="100.58" height="14.86" fill="#ccccff"/>
<rect x="1062.4" y="227.21" width="100.58" height="14.86" fill="#ffffff"/>
<rect x="1162.93" y="227.21" width="100.58" height="14.86" fill="#8080ff"/>
<rect x="1263.47" y="227.21" width="100.58" height="14.86" fill="#ccccff"/>
<rect x="1364" y="227.21" width="100.58" height="14.86" fill="#b2b2ff"/>
<rect x="1464.53" y="227.21" width="100.58" height="14.86" fill="#8c8cff"/>
<rect x="1565.07" y="227.21" width="100.58" height="14.86" fill="#8c8cff"/>
<rect x="1062.4" y="242.02" width="100.58" height="14.86" fill="#ccccff"/>
<rect x="1162.93" y="242.02" width="100.58" height="14.86" fill="#b2b2ff"/>
<rect x="1263.47" y="242.02" width="100.58" height="14.86" fill="#ccccff"/>
<rect x="1364" y="242.02" width="100.58" height="14.86" fill="#8080ff"/>
<rect x="1464.53" y="242.02" width="100.58" height="14.86" fill="#ccccff"/>
<rect x="1565.07" y="242.02" width="100.58" height="14.86" fill="#b2b2ff"/>
<rect x="1062.4" y="256.83" width="100.58" height="14.86" fill="#ffffff"/>
<rect x="1162.93" y="256.83" width="100.58" height="14.86" fill="#6666ff"/>
<rect x="1263.47" y="256.83" width="100.58" height="14.86" fill="#ffffff"/>
<rect x="1364" y="256.83" width="100.58" height="14.86" fill="#9999ff"/>
<rect x="1464.53" y="256.83" width="100.58" height="14.86" fill="#ffffff"/>
<rect x="1565.07" y="256.83" width="100.58" height="14.86" fill="#ffffff"/>
<rect x="1062.4" y="271.64" width="100.58" height="14.86" fill="#ffffff"/>
<rect x="1162.93" y="271.64" width="100.58" height="14.86" fill="#8c8cff"/>
<rect x="1263.47" y="271.64" width="100.58" height="14.86" fill="#ffffff"/>
<rect x="1364" y="271.64" width="100.58" height="14.86" fill="#8c8cff"/>
<rect x="1464.53" y="271.64" width="100.58" height="14.86" fill="#ffffff"/>
<rect x="1565.07" y="271.64" width="100.58" height="14.86" fill="#ffffff"/>
<rect x="1062.4" y="286.45" width="100.58" height="14.86" fill="#ffffff"/>
<rect x="1162.93" y="286.45" width="100.58" height="14.86" fill="#9999ff"/>
<rect x="1263.47" y="286.45" width="100.58" height="14.86" fill="#ffffff"/>
<rect x="1364" y="286.45" width="100.58" height="14.86" fill="#ffffff"/>
<rect x="1464.53" y="286.45" width="100.58" height="14.86" fill="#ffffff"/>
<rect x="1565.07" y="286.45" width="100.58" height="14.86" fill="#8c8cff"/>
<rect x="1062.4" y="301.26" width="100.58" height="14.86" fill="#ffffff"/>
<rect x="1162.93" y="301.26" width="100.58" height="14.86" fill="#a6a6ff"/>
<rect x="1263.47" y="301.26" width="100.58" height="14.86" fill="#ffffff"/>
<rect x="1364" y="301.26" width="100.58" height="14.86" fill="#ffffff"/>
<rect x="1464.53" y="301.26" width="100.58" height="14.86" fill="#ccccff"/>
<rect x="1565.07" y="301.26" width="100.58" height="14.86" fill="#ffffff"/>
<rect x="1062.4" y="316.07" width="100.58" height="14.86" fill="#ffffff"/>
<rect x="1162.93" y="316.07" width="100.58" height="14.86" fill="#8c8cff"/>
<rect x="1263.47" y="316.07" width="100.58" height="14.86" fill="#ffffff"/>
<rect x="1364" y="316.07" width="100.58" height="14.86" fill="#ffffff"/>
<rect x="1464.53" y="316.07" width="100.58" height="14.86" fill="#a6a6ff"/>
<rect x="1565.07" y="316.07" width="100.58" height="14.86" fill="#ffffff"/>
<rect x="1062.4" y="330.88" width="100.58" height="14.86" fill="#e6e6ff"/>
<rect x="1162.93" y="330.88" width="100.58" height="14.86" fill="#9999ff"/>
<rect x="1263.47" y="330.88" width="100.58" height="14.86" fill="#ffffff"/>
<rect x="1364" y="330.88" width="100.58" height="14.86" fill="#ffffff"/>
<rect x="1464.53" y="330.88" width="100.58" height="14.86" fill="#ffffff"/>
<rect x="1565.07" y="330.88" width="100.58" height="14.86" fill="#ffffff"/>
<rect x="1062.4" y="345.69" width="100.58" height="14.86" fill="#ffffff"/>
<rect x="1162.93" y="345.69" width="100.58" height="14.86" fill="#b2b2ff"/>
<rect x="1263.47" y="345.69" width="100.58" height="14.86" fill="#ffffff"/>
<rect x="1364" y="345.69" width="100.58" height="14.86" fill="#ffe6e6"/>
<rect x="1464.53" y="345.69" width="100.58" height="14.86" fill="#fff2f2"/>
<rect x="1565.07" y="345.69" width="100.58" height="14.86" fill="#ffe6e6"/>
<rect x="1062.4" y="360.5" width="100.58" height="14.86" fill="#a6a6ff"/>
<rect x="1162.93" y="360.5" width="100.58" height="14.86" fill="#3333ff"/>
<rect x="1263.47" y="360.5" width="100.58" height="14.86" fill="#a6a6ff"/>
<rect x="1364" y="360.5" width="100.58" height="14.86" fill="#ffffff"/>
<rect x="1464.53" y="360.5" width="100.58" height="14.86" fill="#ffffff"/>
<rect x="1565.07" y="360.5" width="100.58" height="14.86" fill="#ffffff"/>
<rect x="1062.4" y="375.31" width="100.58" height="14.86" fill="#8c8cff"/>
<rect x="1162.93" y="375.31" width="100.58" height="14.86" fill="#a6a6ff"/>
<rect x="1263.47" y="375.31" width="100.58" height="14.86" fill="#8c8cff"/>
<rect x="1364" y="375.31" width="100.58" height="14.86" fill="#ffffff"/>
<rect x="1464.53" y="375.31" width="100.58" height="14.86" fill="#d9d9ff"/>
<rect x="1565.07" y="375.31" width="100.58" height="14.86" fill="#d9d9ff"/>
<rect x="1062.4" y="390.12" width="100.58" height="14.86" fill="#d9d9ff"/>
<rect x="1162.93" y="390.12" width="100.58" height="14.86" fill="#a6a6ff"/>
<rect x="1263.47" y="390.12" width="100.58" height="14.86" fill="#a6a6ff"/>
<rect x="1364" y="390.12" width="100.58" height="14.86" fill="#ccccff"/>
<rect x="1464.53" y="390.12" width="100.58" height="14.86" fill="#ffffff"/>
<rect x="1565.07" y="390.12" width="100.58" height="14.86" fill="#ffffff"/>
<rect x="1062.4" y="404.93" width="100.58" height="14.86" fill="#a6a6ff"/>
<rect x="1162.93" y="404.93" width="100.58" height="14.86" fill="#f2f2ff"/>
<rect x="1263.47" y="404.93" width="100.58" height="14.86" fill="#bfbfff"/>
<rect x="1364" y="404.93" width="100.58" height="14.86" fill="#ffffff"/>
<rect x="1464.53" y="404.93" width="100.58" height="14.86" fill="#f2f2ff"/>
<rect x="1565.07" y="404.93" width="100.58" height="14.86" fill="#f2f2ff"/>
<rect x="1062.4" y="419.74" width="100.58" height="14.86" fill="#a6a6ff"/>
<rect x="1162.93" y="419.74" width="100.58" height="14.86" fill="#ccccff"/>
<rect x="1263.47" y="419.74" width="100.58" height="14.86" fill="#b2b2ff"/>
<rect x="1364" y="419.74" width="100.58" height="14.86" fill="#ffffff"/>
<rect x="1464.53" y="419.74" width="100.58" height="14.86" fill="#d9d9ff"/>
<rect x="1565.07" y="419.74" width="100.58" height="14.86" fill="#ffffff"/>
<rect x="1062.4" y="434.55" width="100.58" height="14.86" fill="#e6e6ff"/>
<rect x="1162.93" y="434.55" width="100.58" height="14.86" fill="#f2f2ff"/>
<rect x="1263.47" y="434.55" width="100.58" height="14.86" fill="#e6e6ff"/>
<rect x="1364" y="434.55" width="100.58" height="14.86" fill="#e6e6ff"/>
<rect x="1464.53" y="434.55" width="100.58" height="14.86" fill="#f2f2ff"/>
<rect x="1565.07" y="434.55" width="100.58" height="14.86" fill="#ccccff"/>
<rect x="1062.4" y="449.36" width="100.58" height="14.86" fill="#ffffff"/>
<rect x="1162.93" y="449.36" width="100.58" height="14.86" fill="#ccccff"/>
<rect x="1263.47" y="449.36" width="100.58" height="14.86" fill="#ffffff"/>
<rect x="1364" y="449.36" width="100.58" height="14.86" fill="#ffffff"/>
<rect x="1464.53" y="449.36" width="100.58" height="14.86" fill="#e6e6ff"/>
<rect x="1565.07" y="449.36" width="100.58" height="14.86" fill="#ffffff"/>
<rect x="1062.4" y="464.17" width="100.58" height="14.86" fill="#ededff"/>
<rect x="1162.93" y="464.17" width="100.58" height="14.86" fill="#ccccff"/>
<rect x="1263.47" y="464.17" width="100.58" height="14.86" fill="#f2f2ff"/>
<rect x="1364" y="464.17" width="100.58" height="14.86" fill="#ffffff"/>
<rect x="1464.53" y="464.17" width="100.58" height="14.86" fill="#ffffff"/>
<rect x="1565.07" y="464.17" width="100.58" height="14.86" fill="#ffffff"/>
<rect x="1062.4" y="478.98" width="100.58" height="14.86" fill="#fff2f2"/>
<rect x="1162.93" y="478.98" width="100.58" height="14.86" fill="#d9d9ff"/>
<rect x="1263.47" y="478.98" width="100.58" height="14.86" fill="#b2b2ff"/>
<rect x="1364" y="478.98" width="100.58" height="14.86" fill="#ffe6e6"/>
<rect x="1464.53" y="478.98" width="100.58" height="14.86" fill="#ffffff"/>
<rect x="1565.07" y="478.98" width="100.58" height="14.86" fill="#ffe6e6"/>
<rect x="1062.4" y="493.78" width="100.58" height="14.86" fill="#ffffff"/>
<rect x="1162.93" y="493.78" width="100.58" height="14.86" fill="#ffffff"/>
<rect x="1263.47" y="493.78" width="100.58" height="14.86" fill="#ffffff"/>
<rect x="1364" y="493.78" width="100.58" height="14.86" fill="#ffffff"/>
<rect x="1464.53" y="493.78" width="100.58" height="14.86" fill="#ffd9d9"/>
<rect x="1565.07" y="493.78" width="100.58" height="14.86" fill="#ffe6e6"/>
<rect x="1062.4" y="508.59" width="100.58" height="14.86" fill="#f2f2ff"/>
<rect x="1162.93" y="508.59" width="100.58" height="14.86" fill="#ffffff"/>
<rect x="1263.47" y="508.59" width="100.58" height="14.86" fill="#e6e6ff"/>
<rect x="1364" y="508.59" width="100.58" height="14.86" fill="#ffffff"/>
<rect x="1464.53" y="508.59" width="100.58" height="14.86" fill="#ffd9d9"/>
<rect x="1565.07" y="508.59" width="100.58" height="14.86" fill="#ffd1d1"/>
<rect x="1062.4" y="523.4" width="100.58" height="14.86" fill="#ffb2b2"/>
<rect x="1162.93" y="523.4" width="100.58" height="14.86" fill="#d9d9ff"/>
<rect x="1263.47" y="523.4" width="100.58" height="14.86" fill="#ffb8b8"/>
<rect x="1364" y="523.4" width="100.58" height="14.86" fill="#ffffff"/>
<rect x="1464.53" y="523.4" width="100.58" height="14.86" fill="#ffffff"/>
<rect x="1565.07" y="523.4" width="100.58" height="14.86" fill="#ffffff"/>
<rect x="1062.4" y="538.21" width="100.58" height="14.86" fill="#ffd9d9"/>
<rect x="1162.93" y="538.21" width="100.58" height="14.86" fill="#ffe0e0"/>
<rect x="1263.47" y="538.21" width="100.58" height="14.86" fill="#ffd9d9"/>
<rect x="1364" y="538.21" width="100.58" height="14.86" fill="#ffd4d4"/>
<rect x="1464.53" y="538.21" width="100.58" height="14.86" fill="#ffe6e6"/>
<rect x="1565.07" y="538.21" width="100.58" height="14.86" fill="#ffd1d1"/>
<rect x="1062.4" y="553.02" width="100.58" height="14.86" fill="#ffe0e0"/>
<rect x="1162.93" y="553.02" width="100.58" height="14.86" fill="#ffd1d1"/>
<rect x="1263.47" y="553.02" width="100.58" height="14.86" fill="#ffc9c9"/>
<rect x="1364" y="553.02" width="100.58" height="14.86" fill="#ffd9d9"/>
<rect x="1464.53" y="553.02" width="100.58" height="14.86" fill="#ffd1d1"/>
<rect x="1565.07" y="553.02" width="100.58" height="14.86" fill="#ffbfbf"/>
<rect x="1062.4" y="567.83" width="100.58" height="14.86" fill="#ffd9d9"/>
<rect x="1162.93" y="567.83" width="100.58" height="14.86" fill="#ffffff"/>
<rect x="1263.47" y="567.83" width="100.58" height="14.86" fill="#fff7f7"/>
<rect x="1364" y="567.83" width="100.58" height="14.86" fill="#ffd1d1"/>
<rect x="1464.53" y="567.83" width="100.58" height="14.86" fill="#f5f5ff"/>
<rect x="1565.07" y="567.83" width="100.58" height="14.86" fill="#ffffff"/>
<rect x="1062.4" y="582.64" width="100.58" height="14.86" fill="#ffffff"/>
<rect x="1162.93" y="582.64" width="100.58" height="14.86" fill="#ffffff"/>
<rect x="1263.47" y="582.64" width="100.58" height="14.86" fill="#ffd9d9"/>
<rect x="1364" y="582.64" width="100.58" height="14.86" fill="#ffffff"/>
<rect x="1464.53" y="582.64" width="100.58" height="14.86" fill="#ffffff"/>
<rect x="1565.07" y="582.64" width="100.58" height="14.86" fill="#ffffff"/>
<rect x="1062.4" y="597.45" width="100.58" height="14.86" fill="#ffffff"/>
<rect x="1162.93" y="597.45" width="100.58" height="14.86" fill="#ffffff"/>
<rect x="1263.47" y="597.45" width="100.58" height="14.86" fill="#ffffff"/>
<rect x="1364" y="597.45" width="100.58" height="14.86" fill="#b2b2ff"/>
<rect x="1464.53" y="597.45" width="100.58" height="14.86" fill="#ffffff"/>
<rect x="1565.07" y="597.45" width="100.58" height="14.86" fill="#ffffff"/>
<rect x="1062.4" y="612.26" width="100.58" height="14.86" fill="#ffffff"/>
<rect x="1162.93" y="612.26" width="100.58" height="14.86" fill="#ffffff"/>
<rect x="1263.47" y="612.26" width="100.58" height="14.86" fill="#ffffff"/>
<rect x="1364" y="612.26" width="100.58" height="14.86" fill="#8080ff"/>
<rect x="1464.53" y="612.26" width="100.58" height="14.86" fill="#ffffff"/>
<rect x="1565.07" y="612.26" width="100.58" height="14.86" fill="#ffffff"/>
<rect x="1062.4" y="627.07" width="100.58" height="14.86" fill="#ffd1d1"/>
<rect x="1162.93" y="627.07" width="100.58" height="14.86" fill="#ffffff"/>
<rect x="1263.47" y="627.07" width="100.58" height="14.86" fill="#ffb8b8"/>
<rect x="1364" y="627.07" width="100.58" height="14.86" fill="#b2b2ff"/>
<rect x="1464.53" y="627.07" width="100.58" height="14.86" fill="#ffffff"/>
<rect x="1565.07" y="627.07" width="100.58" height="14.86" fill="#fafaff"/>
<rect x="1062.4" y="641.88" width="100.58" height="14.86" fill="#ffe8e8"/>
<rect x="1162.93" y="641.88" width="100.58" height="14.86" fill="#ffbfbf"/>
<rect x="1263.47" y="641.88" width="100.58" height="14.86" fill="#ffb8b8"/>
<rect x="1364" y="641.88" width="100.58" height="14.86" fill="#a8a8ff"/>
<rect x="1464.53" y="641.88" width="100.58" height="14.86" fill="#ffffff"/>
<rect x="1565.07" y="641.88" width="100.58" height="14.86" fill="#f0f0ff"/>
<rect x="1062.4" y="656.69" width="100.58" height="14.86" fill="#ffffff"/>
<rect x="1162.93" y="656.69" width="100.58" height="14.86" fill="#ffffff"/>
<rect x="1263.47" y="656.69" width="100.58" height="14.86" fill="#bfbfff"/>
<rect x="1364" y="656.69" width="100.58" height="14.86" fill="#ffffff"/>
<rect x="1464.53" y="656.69" width="100.58" height="14.86" fill="#ffffff"/>
<rect x="1565.07" y="656.69" width="100.58" height="14.86" fill="#a1a1ff"/>
<rect x="1062.4" y="671.5" width="100.58" height="14.86" fill="#ffd1d1"/>
<rect x="1162.93" y="671.5" width="100.58" height="14.86" fill="#ffd9d9"/>
<rect x="1263.47" y="671.5" width="100.58" height="14.86" fill="#e8e8ff"/>
<rect x="1364" y="671.5" width="100.58" height="14.86" fill="#ffffff"/>
<rect x="1464.53" y="671.5" width="100.58" height="14.86" fill="#d1d1ff"/>
<rect x="1565.07" y="671.5" width="100.58" height="14.86" fill="#bfbfff"/>
<rect x="1062.4" y="686.31" width="100.58" height="14.86" fill="#ffe0e0"/>
<rect x="1162.93" y="686.31" width="100.58" height="14.86" fill="#fff0f0"/>
<rect x="1263.47" y="686.31" width="100.58" height="14.86" fill="#ffe0e0"/>
<rect x="1364" y="686.31" width="100.58" height="14.86" fill="#e0e0ff"/>
<rect x="1464.53" y="686.31" width="100.58" height="14.86" fill="#d9d9ff"/>
<rect x="1565.07" y="686.31" width="100.58" height="14.86" fill="#b8b8ff"/>
<rect x="1062.4" y="701.12" width="100.58" height="14.86" fill="#9191ff"/>
<rect x="1162.93" y="701.12" width="100.58" height="14.86" fill="#b8b8ff"/>
<rect x="1263.47" y="701.12" width="100.58" height="14.86" fill="#ffffff"/>
<rect x="1364" y="701.12" width="100.58" height="14.86" fill="#ffffff"/>
<rect x="1464.53" y="701.12" width="100.58" height="14.86" fill="#9191ff"/>
<rect x="1565.07" y="701.12" width="100.58" height="14.86" fill="#ffffff"/>
<rect x="1062.4" y="715.93" width="100.58" height="14.86" fill="#7070ff"/>
<rect x="1162.93" y="715.93" width="100.58" height="14.86" fill="#ffffff"/>
<rect x="1263.47" y="715.93" width="100.58" height="14.86" fill="#ffffff"/>
<rect x="1364" y="715.93" width="100.58" height="14.86" fill="#ffffff"/>
<rect x="1464.53" y="715.93" width="100.58" height="14.86" fill="#6666ff"/>
<rect x="1565.07" y="715.93" width="100.58" height="14.86" fill="#b2b2ff"/>
<rect x="1062.4" y="730.74" width="100.58" height="14.86" fill="#8080ff"/>
<rect x="1162.93" y="730.74" width="100.58" height="14.86" fill="#e8e8ff"/>
<rect x="1263.47" y="730.74" width="100.58" height="14.86" fill="#e0e0ff"/>
<rect x="1364" y="730.74" width="100.58" height="14.86" fill="#fff5f5"/>
<rect x="1464.53" y="730.74" width="100.58" height="14.86" fill="#ffffff"/>
<rect x="1565.07" y="730.74" width="100.58" height="14.86" fill="#bfbfff"/>
<rect x="1062.4" y="745.55" width="100.58" height="14.86" fill="#7070ff"/>
<rect x="1162.93" y="745.55" width="100.58" height="14.86" fill="#c9c9ff"/>
<rect x="1263.47" y="745.55" width="100.58" height="14.86" fill="#d9d9ff"/>
<rect x="1364" y="745.55" width="100.58" height="14.86" fill="#fff5f5"/>
<rect x="1464.53" y="745.55" width="100.58" height="14.86" fill="#d1d1ff"/>
<rect x="1565.07" y="745.55" width="100.58" height="14.86" fill="#b2b2ff"/>
<rect x="1062.4" y="760.36" width="100.58" height="14.86" fill="#6666ff"/>
<rect x="1162.93" y="760.36" width="100.58" height="14.86" fill="#b2b2ff"/>
<rect x="1263.47" y="760.36" width="100.58" height="14.86" fill="#ffffff"/>
<rect x="1364" y="760.36" width="100.58" height="14.86" fill="#ffffff"/>
<rect x="1464.53" y="760.36" width="100.58" height="14.86" fill="#ffffff"/>
<rect x="1565.07" y="760.36" width="100.58" height="14.86" fill="#ffffff"/>
<rect x="1062.4" y="775.17" width="100.58" height="14.86" fill="#b8b8ff"/>
<rect x="1162.93" y="775.17" width="100.58" height="14.86" fill="#a1a1ff"/>
<rect x="1263.47" y="775.17" width="100.58" height="14.86" fill="#ffffff"/>
<rect x="1364" y="775.17" width="100.58" height="14.86" fill="#ffffff"/>
<rect x="1464.53" y="775.17" width="100.58" height="14.86" fill="#ffffff"/>
<rect x="1565.07" y="775.17" width="100.58" height="14.86" fill="#ffffff"/>
<rect x="1062.4" y="789.98" width="100.58" height="14.86" fill="#7070ff"/>
<rect x="1162.93" y="789.98" width="100.58" height="14.86" fill="#ffffff"/>
<rect x="1263.47" y="789.98" width="100.58" height="14.86" fill="#ffffff"/>
<rect x="1364" y="789.98" width="100.58" height="14.86" fill="#ffa1a1"/>
<rect x="1464.53" y="789.98" width="100.58" height="14.86" fill="#ffffff"/>
<rect x="1565.07" y="789.98" width="100.58" height="14.86" fill="#fff5f5"/>
<rect x="1062.4" y="804.79" width="100.58" height="14.86" fill="#bfbfff"/>
<rect x="1162.93" y="804.79" width="100.58" height="14.86" fill="#ffffff"/>
<rect x="1263.47" y="804.79" width="100.58" height="14.86" fill="#ffffff"/>
<rect x="1364" y="804.79" width="100.58" height="14.86" fill="#ffe0e0"/>
<rect x="1464.53" y="804.79" width="100.58" height="14.86" fill="#ffffff"/>
<rect x="1565.07" y="804.79" width="100.58" height="14.86" fill="#b8b8ff"/>
<rect x="1062.4" y="819.6" width="100.58" height="14.86" fill="#bfbfff"/>
<rect x="1162.93" y="819.6" width="100.58" height="14.86" fill="#fff0f0"/>
<rect x="1263.47" y="819.6" width="100.58" height="14.86" fill="#f0f0ff"/>
<rect x="1364" y="819.6" width="100.58" height="14.86" fill="#ffe0e0"/>
<rect x="1464.53" y="819.6" width="100.58" height="14.86" fill="#e0e0ff"/>
<rect x="1565.07" y="819.6" width="100.58" height="14.86" fill="#f0f0ff"/>
<rect x="1062.4" y="834.41" width="100.58" height="14.86" fill="#bfbfff"/>
<rect x="1162.93" y="834.41" width="100.58" height="14.86" fill="#e0e0ff"/>
<rect x="1263.47" y="834.41" width="100.58" height="14.86" fill="#ffffff"/>
<rect x="1364" y="834.41" width="100.58" height="14.86" fill="#ffe0e0"/>
<rect x="1464.53" y="834.41" width="100.58" height="14.86" fill="#f5f5ff"/>
<rect x="1565.07" y="834.41" width="100.58" height="14.86" fill="#f5f5ff"/>
<rect x="1062.4" y="849.22" width="100.58" height="14.86" fill="#ff8787"/>
<rect x="1162.93" y="849.22" width="100.58" height="14.86" fill="#ff9191"/>
<rect x="1263.47" y="849.22" width="100.58" height="14.86" fill="#ff9999"/>
<rect x="1364" y="849.22" width="100.58" height="14.86" fill="#ff4040"/>
<rect x="1464.53" y="849.22" width="100.58" height="14.86" fill="#ff4f4f"/>
<rect x="1565.07" y="849.22" width="100.58" height="14.86" fill="#ff4747"/>
<rect x="1062.4" y="864.03" width="100.58" height="14.86" fill="#ff4f4f"/>
<rect x="1162.93" y="864.03" width="100.58" height="14.86" fill="#ff4f4f"/>
<rect x="1263.47" y="864.03" width="100.58" height="14.86" fill="#ff5959"/>
<rect x="1364" y="864.03" width="100.58" height="14.86" fill="#ff3030"/>
<rect x="1464.53" y="864.03" width="100.58" height="14.86" fill="#ff2929"/>
<rect x="1565.07" y="864.03" width="100.58" height="14.86" fill="#ff1919"/>
<rect x="1062.4" y="878.84" width="100.58" height="14.86" fill="#ff8787"/>
<rect x="1162.93" y="878.84" width="100.58" height="14.86" fill="#ff5959"/>
<rect x="1263.47" y="878.84" width="100.58" height="14.86" fill="#ff6161"/>
<rect x="1364" y="878.84" width="100.58" height="14.86" fill="#ff9191"/>
<rect x="1464.53" y="878.84" width="100.58" height="14.86" fill="#ff3838"/>
<rect x="1565.07" y="878.84" width="100.58" height="14.86" fill="#ff4040"/>
<rect x="1062.4" y="893.65" width="100.58" height="14.86" fill="#ff4040"/>
<rect x="1162.93" y="893.65" width="100.58" height="14.86" fill="#ff7070"/>
<rect x="1263.47" y="893.65" width="100.58" height="14.86" fill="#ff7070"/>
<rect x="1364" y="893.65" width="100.58" height="14.86" fill="#ffd1d1"/>
<rect x="1464.53" y="893.65" width="100.58" height="14.86" fill="#ff8787"/>
<rect x="1565.07" y="893.65" width="100.58" height="14.86" fill="#ffa1a1"/>
<rect x="1062.4" y="908.46" width="100.58" height="14.86" fill="#ff3838"/>
<rect x="1162.93" y="908.46" width="100.58" height="14.86" fill="#ff6161"/>
<rect x="1263.47" y="908.46" width="100.58" height="14.86" fill="#ff6161"/>
<rect x="1364" y="908.46" width="100.58" height="14.86" fill="#ff9999"/>
<rect x="1464.53" y="908.46" width="100.58" height="14.86" fill="#ff7070"/>
<rect x="1565.07" y="908.46" width="100.58" height="14.86" fill="#ffa1a1"/>
<rect x="1062.4" y="923.27" width="100.58" height="14.86" fill="#ff6969"/>
<rect x="1162.93" y="923.27" width="100.58" height="14.86" fill="#ff7070"/>
<rect x="1263.47" y="923.27" width="100.58" height="14.86" fill="#ff8787"/>
<rect x="1364" y="923.27" width="100.58" height="14.86" fill="#ffb8b8"/>
<rect x="1464.53" y="923.27" width="100.58" height="14.86" fill="#ffd9d9"/>
<rect x="1565.07" y="923.27" width="100.58" height="14.86" fill="#ffa8a8"/>
<rect x="1062.4" y="938.08" width="100.58" height="14.86" fill="#ff7878"/>
<rect x="1162.93" y="938.08" width="100.58" height="14.86" fill="#ff7878"/>
<rect x="1263.47" y="938.08" width="100.58" height="14.86" fill="#ff7070"/>
<rect x="1364" y="938.08" width="100.58" height="14.86" fill="#ffe0e0"/>
<rect x="1464.53" y="938.08" width="100.58" height="14.86" fill="#ffa8a8"/>
<rect x="1565.07" y="938.08" width="100.58" height="14.86" fill="#ffa8a8"/>
<rect x="1062.4" y="952.89" width="100.58" height="14.86" fill="#ffa1a1"/>
<rect x="1162.93" y="952.89" width="100.58" height="14.86" fill="#ffa1a1"/>
<rect x="1263.47" y="952.89" width="100.58" height="14.86" fill="#ffa8a8"/>
<rect x="1364" y="952.89" width="100.58" height="14.86" fill="#ff9999"/>
<rect x="1464.53" y="952.89" width="100.58" height="14.86" fill="#ff9999"/>
<rect x="1565.07" y="952.89" width="100.58" height="14.86" fill="#ff9999"/>
<rect x="1062.4" y="967.7" width="100.58" height="14.86" fill="#ffa1a1"/>
<rect x="1162.93" y="967.7" width="100.58" height="14.86" fill="#ff8080"/>
<rect x="1263.47" y="967.7" width="100.58" height="14.86" fill="#ff8787"/>
<rect x="1364" y="967.7" width="100.58" height="14.86" fill="#ff9999"/>
<rect x="1464.53" y="967.7" width="100.58" height="14.86" fill="#ff9191"/>
<rect x="1565.07" y="967.7" width="100.58" height="14.86" fill="#ff8080"/>
<rect x="1062.4" y="982.51" width="100.58" height="14.86" fill="#ff9999"/>
<rect x="1162.93" y="982.51" width="100.58" height="14.86" fill="#ff9999"/>
<rect x="1263.47" y="982.51" width="100.58" height="14.86" fill="#ffa8a8"/>
<rect x="1364" y="982.51" width="100.58" height="14.86" fill="#ff8080"/>
<rect x="1464.53" y="982.51" width="100.58" height="14.86" fill="#ffc9c9"/>
<rect x="1565.07" y="982.51" width="100.58" height="14.86" fill="#ffa1a1"/>
<rect x="1062.4" y="997.32" width="100.58" height="14.86" fill="#ffa1a1"/>
<rect x="1162.93" y="997.32" width="100.58" height="14.86" fill="#ff9191"/>
<rect x="1263.47" y="997.32" width="100.58" height="14.86" fill="#ffa8a8"/>
<rect x="1364" y="997.32" width="100.58" height="14.86" fill="#ffb8b8"/>
<rect x="1464.53" y="997.32" width="100.58" height="14.86" fill="#ffb2b2"/>
<rect x="1565.07" y="997.32" width="100.58" height="14.86" fill="#ffbfbf"/>
<rect x="1062.4" y="1012.12" width="100.58" height="14.86" fill="#ff9999"/>
<rect x="1162.93" y="1012.12" width="100.58" height="14.86" fill="#ffbfbf"/>
<rect x="1263.47" y="1012.12" width="100.58" height="14.86" fill="#ffa8a8"/>
<rect x="1364" y="1012.12" width="100.58" height="14.86" fill="#ffc9c9"/>
<rect x="1464.53" y="1012.12" width="100.58" height="14.86" fill="#ff9999"/>
<rect x="1565.07" y="1012.12" width="100.58" height="14.86" fill="#ff9999"/>
<rect x="1062.4" y="1026.93" width="100.58" height="14.86" fill="#ff8787"/>
<rect x="1162.93" y="1026.93" width="100.58" height="14.86" fill="#ffc9c9"/>
<rect x="1263.47" y="1026.93" width="100.58" height="14.86" fill="#ffe0e0"/>
<rect x="1364" y="1026.93" width="100.58" height="14.86" fill="#ff9999"/>
<rect x="1464.53" y="1026.93" width="100.58" height="14.86" fill="#ff9191"/>
<rect x="1565.07" y="1026.93" width="100.58" height="14.86" fill="#ff8787"/>
<rect x="1062.4" y="1041.74" width="100.58" height="14.86" fill="#ffb8b8"/>
<rect x="1162.93" y="1041.74" width="100.58" height="14.86" fill="#ffb2b2"/>
<rect x="1263.47" y="1041.74" width="100.58" height="14.86" fill="#ffbfbf"/>
<rect x="1364" y="1041.74" width="100.58" height="14.86" fill="#ff6969"/>
<rect x="1464.53" y="1041.74" width="100.58" height="14.86" fill="#ff9191"/>
<rect x="1565.07" y="1041.74" width="100.58" height="14.86" fill="#ff9191"/>
<rect x="1062.4" y="1056.55" width="100.58" height="14.86" fill="#ff9191"/>
<rect x="1162.93" y="1056.55" width="100.58" height="14.86" fill="#ff9191"/>
<rect x="1263.47" y="1056.55" width="100.58" height="14.86" fill="#ff9999"/>
<rect x="1364" y="1056.55" width="100.58" height="14.86" fill="#ff8080"/>
<rect x="1464.53" y="1056.55" width="100.58" height="14.86" fill="#ff7070"/>
<rect x="1565.07" y="1056.55" width="100.58" height="14.86" fill="#ff7878"/>
<rect x="1062.4" y="1071.36" width="100.58" height="14.86" fill="#ff8787"/>
<rect x="1162.93" y="1071.36" width="100.58" height="14.86" fill="#ff9999"/>
<rect x="1263.47" y="1071.36" width="100.58" height="14.86" fill="#ffa1a1"/>
<rect x="1364" y="1071.36" width="100.58" height="14.86" fill="#ff7070"/>
<rect x="1464.53" y="1071.36" width="100.58" height="14.86" fill="#ff6969"/>
<rect x="1565.07" y="1071.36" width="100.58" height="14.86" fill="#ff7070"/>
<rect x="1062.4" y="1086.17" width="100.58" height="14.86" fill="#fffafa"/>
<rect x="1162.93" y="1086.17" width="100.58" height="14.86" fill="#ffd1d1"/>
<rect x="1263.47" y="1086.17" width="100.58" height="14.86" fill="#d1d1ff"/>
<rect x="1364" y="1086.17" width="100.58" height="14.86" fill="#ff9191"/>
<rect x="1464.53" y="1086.17" width="100.58" height="14.86" fill="#ffa8a8"/>
<rect x="1565.07" y="1086.17" width="100.58" height="14.86" fill="#ffd9d9"/>
<rect x="1062.4" y="1100.98" width="100.58" height="14.86" fill="#ffbfbf"/>
<rect x="1162.93" y="1100.98" width="100.58" height="14.86" fill="#ffe0e0"/>
<rect x="1263.47" y="1100.98" width="100.58" height="14.86" fill="#ffffff"/>
<rect x="1364" y="1100.98" width="100.58" height="14.86" fill="#ffffff"/>
<rect x="1464.53" y="1100.98" width="100.58" height="14.86" fill="#ff8787"/>
<rect x="1565.07" y="1100.98" width="100.58" height="14.86" fill="#ffa8a8"/>
<rect x="1062.4" y="1115.79" width="100.58" height="14.86" fill="#ffd1d1"/>
<rect x="1162.93" y="1115.79" width="100.58" height="14.86" fill="#ffa8a8"/>
<rect x="1263.47" y="1115.79" width="100.58" height="14.86" fill="#ffe8e8"/>
<rect x="1364" y="1115.79" width="100.58" height="14.86" fill="#e0e0ff"/>
<rect x="1464.53" y="1115.79" width="100.58" height="14.86" fill="#ffd1d1"/>
<rect x="1565.07" y="1115.79" width="100.58" height="14.86" fill="#c9c9ff"/>
<rect x="1062.4" y="1130.6" width="100.58" height="14.86" fill="#ffc9c9"/>
<rect x="1162.93" y="1130.6" width="100.58" height="14.86" fill="#ff8787"/>
<rect x="1263.47" y="1130.6" width="100.58" height="14.86" fill="#ffd1d1"/>
<rect x="1364" y="1130.6" width="100.58" height="14.86" fill="#b8b8ff"/>
<rect x="1464.53" y="1130.6" width="100.58" height="14.86" fill="#ffc9c9"/>
<rect x="1565.07" y="1130.6" width="100.58" height="14.86" fill="#ffd1d1"/>
<rect x="1062.4" y="1145.41" width="100.58" height="14.86" fill="#ffd1d1"/>
<rect x="1162.93" y="1145.41" width="100.58" height="14.86" fill="#ff8787"/>
<rect x="1263.47" y="1145.41" width="100.58" height="14.86" fill="#ffd9d9"/>
<rect x="1364" y="1145.41" width="100.58" height="14.86" fill="#bfbfff"/>
<rect x="1464.53" y="1145.41" width="100.58" height="14.86" fill="#ffd1d1"/>
<rect x="1565.07" y="1145.41" width="100.58" height="14.86" fill="#ffd9d9"/>
<rect x="1062.4" y="1160.22" width="100.58" height="14.86" fill="#e8e8ff"/>
<rect x="1162.93" y="1160.22" width="100.58" height="14.86" fill="#ffd1d1"/>
<rect x="1263.47" y="1160.22" width="100.58" height="14.86" fill="#ff8787"/>
<rect x="1364" y="1160.22" width="100.58" height="14.86" fill="#ffffff"/>
<rect x="1464.53" y="1160.22" width="100.58" height="14.86" fill="#ffffff"/>
<rect x="1565.07" y="1160.22" width="100.58" height="14.86" fill="#ffffff"/>
<rect x="1062.4" y="1175.03" width="100.58" height="14.86" fill="#ffe0e0"/>
<rect x="1162.93" y="1175.03" width="100.58" height="14.86" fill="#ffb2b2"/>
<rect x="1263.47" y="1175.03" width="100.58" height="14.86" fill="#ff8080"/>
<rect x="1364" y="1175.03" width="100.58" height="14.86" fill="#8787ff"/>
<rect x="1464.53" y="1175.03" width="100.58" height="14.86" fill="#ffd1d1"/>
<rect x="1565.07" y="1175.03" width="100.58" height="14.86" fill="#fff5f5"/>
<rect x="1062.4" y="1189.84" width="100.58" height="14.86" fill="#ffd1d1"/>
<rect x="1162.93" y="1189.84" width="100.58" height="14.86" fill="#ffa8a8"/>
<rect x="1263.47" y="1189.84" width="100.58" height="14.86" fill="#ff8787"/>
<rect x="1364" y="1189.84" width="100.58" height="14.86" fill="#d1d1ff"/>
<rect x="1464.53" y="1189.84" width="100.58" height="14.86" fill="#fff0f0"/>
<rect x="1565.07" y="1189.84" width="100.58" height="14.86" fill="#ffe6e6"/>
<rect x="1062.4" y="1204.65" width="100.58" height="14.86" fill="#ff4f4f"/>
<rect x="1162.93" y="1204.65" width="100.58" height="14.86" fill="#ff7070"/>
<rect x="1263.47" y="1204.65" width="100.58" height="14.86" fill="#ff7878"/>
<rect x="1364" y="1204.65" width="100.58" height="14.86" fill="#b2b2ff"/>
<rect x="1464.53" y="1204.65" width="100.58" height="14.86" fill="#ffd9d9"/>
<rect x="1565.07" y="1204.65" width="100.58" height="14.86" fill="#f5f5ff"/>
<rect x="1062.4" y="1219.46" width="100.58" height="14.86" fill="#ff9999"/>
<rect x="1162.93" y="1219.46" width="100.58" height="14.86" fill="#ff7878"/>
<rect x="1263.47" y="1219.46" width="100.58" height="14.86" fill="#ff8080"/>
<rect x="1364" y="1219.46" width="100.58" height="14.86" fill="#ffffff"/>
<rect x="1464.53" y="1219.46" width="100.58" height="14.86" fill="#b2b2ff"/>
<rect x="1565.07" y="1219.46" width="100.58" height="14.86" fill="#ffffff"/>
<rect x="1062.4" y="1234.27" width="100.58" height="14.86" fill="#ff7878"/>
<rect x="1162.93" y="1234.27" width="100.58" height="14.86" fill="#ff9999"/>
<rect x="1263.47" y="1234.27" width="100.58" height="14.86" fill="#ff9999"/>
<rect x="1364" y="1234.27" width="100.58" height="14.86" fill="#f0f0ff"/>
<rect x="1464.53" y="1234.27" width="100.58" height="14.86" fill="#9191ff"/>
<rect x="1565.07" y="1234.27" width="100.58" height="14.86" fill="#f0f0ff"/>
<rect x="1062.4" y="1249.08" width="100.58" height="14.86" fill="#ff8080"/>
<rect x="1162.93" y="1249.08" width="100.58" height="14.86" fill="#ff9999"/>
<rect x="1263.47" y="1249.08" width="100.58" height="14.86" fill="#ff9191"/>
<rect x="1364" y="1249.08" width="100.58" height="14.86" fill="#ffffff"/>
<rect x="1464.53" y="1249.08" width="100.58" height="14.86" fill="#ffffff"/>
<rect x="1565.07" y="1249.08" width="100.58" height="14.86" fill="#ffffff"/>
<rect x="1062.4" y="1263.89" width="100.58" height="14.86" fill="#ffa1a1"/>
<rect x="1162.93" y="1263.89" width="100.58" height="14.86" fill="#ffa8a8"/>
<rect x="1263.47" y="1263.89" width="100.58" height="14.86" fill="#ffb2b2"/>
<rect x="1364" y="1263.89" width="100.58" height="14.86" fill="#ffbfbf"/>
<rect x="1464.53" y="1263.89" width="100.58" height="14.86" fill="#e0e0ff"/>
<rect x="1565.07" y="1263.89" width="100.58" height="14.86" fill="#ffd9d9"/>
<path d="M1060.9 227.21H1667.1M1060.9 242.02H1667.1M1060.9 256.83H1667.1M1060.9 271.64H1667.1M1060.9 286.45H1667.1M1060.9 301.26H1667.1M1060.9 316.07H1667.1M1060.9 330.88H1667.1M1060.9 345.69H1667.1M1060.9 360.5H1667.1M1060.9 375.31H1667.1M1060.9 390.12H1667.1M1060.9 404.93H1667.1M1060.9 419.74H1667.1M1060.9 434.55H1667.1M1060.9 449.36H1667.1M1060.9 464.17H1667.1M1060.9 478.98H1667.1M1060.9 493.78H1667.1M1060.9 508.59H1667.1M1060.9 523.4H1667.1M1060.9 538.21H1667.1M1060.9 553.02H1667.1M1060.9 567.83H1667.1M1060.9 582.64H1667.1M1060.9 597.45H1667.1M1060.9 612.26H1667.1M1060.9 627.07H1667.1M1060.9 641.88H1667.1M1060.9 656.69H1667.1M1060.9 671.5H1667.1M1060.9 686.31H1667.1M1060.9 701.12H1667.1M1060.9 715.93H1667.1M1060.9 730.74H1667.1M1060.9 745.55H1667.1M1060.9 760.36H1667.1M1060.9 775.17H1667.1M1060.9 789.98H1667.1M1060.9 804.79H1667.1M1060.9 819.6H1667.1M1060.9 834.41H1667.1M1060.9 849.22H1667.1M1060.9 864.03H1667.1M1060.9 878.84H1667.1M1060.9 893.65H1667.1M1060.9 908.46H1667.1M1060.9 923.27H1667.1M1060.9 938.08H1667.1M1060.9 952.89H1667.1M1060.9 967.7H1667.1M1060.9 982.51H1667.1M1060.9 997.32H1667.1M1060.9 1012.12H1667.1M1060.9 1026.93H1667.1M1060.9 1041.74H1667.1M1060.9 1056.55H1667.1M1060.9 1071.36H1667.1M1060.9 1086.17H1667.1M1060.9 1100.98H1667.1M1060.9 1115.79H1667.1M1060.9 1130.6H1667.1M1060.9 1145.41H1667.1M1060.9 1160.22H1667.1M1060.9 1175.03H1667.1M1060.9 1189.84H1667.1M1060.9 1204.65H1667.1M1060.9 1219.46H1667.1M1060.9 1234.27H1667.1M1060.9 1249.08H1667.1M1060.9 1263.89H1667.1" stroke="#aaaaaa" stroke-opacity="0.8" stroke-width="3.2" fill="none"/>
<rect x="1062.4" y="212.4" width="603.2" height="1066.3" stroke="#b4b4b4" stroke-opacity="0.85" stroke-width="3.2" fill="none"/>
<path d="M1162.93 210.9V1280.2M1263.47 210.9V1280.2M1364 210.9V1280.2M1464.53 210.9V1280.2M1565.07 210.9V1280.2" stroke="#989898" stroke-opacity="0.82" stroke-width="3" fill="none"/>
<g font-family="'Liberation Sans',Arial,sans-serif" font-size="25" fill="#2a2a2a" stroke="#2a2a2a" stroke-width="0.5">
<text transform="translate(1105.17,1287) rotate(90) scale(1,0.9)" x="0" y="0">W3L</text>
<text transform="translate(1205.7,1287) rotate(90) scale(1,0.9)" x="0" y="0">W1L</text>
<text transform="translate(1306.23,1287) rotate(90) scale(1,0.9)" x="0" y="0">W2L</text>
<text transform="translate(1406.77,1287) rotate(90) scale(1,0.9)" x="0" y="0">W3</text>
<text transform="translate(1507.3,1287) rotate(90) scale(1,0.9)" x="0" y="0">W1</text>
<text transform="translate(1607.83,1287) rotate(90) scale(1,0.9)" x="0" y="0">W2</text>
</g>
<defs><linearGradient id="gB" x1="0" y1="0" x2="0" y2="1"><stop offset="0" stop-color="#ff0000"/><stop offset="0.5" stop-color="#ffffff"/><stop offset="1" stop-color="#0000ff"/></linearGradient></defs>
<rect x="1676" y="213" width="19.6" height="405.7" fill="url(#gB)"/>
<g font-family="'Liberation Sans',Arial,sans-serif" font-size="25.5" fill="#222" stroke="#222" stroke-width="0.5">
<text transform="translate(1703.5,223.5) scale(0.8,1)" x="0" y="0">10</text>
<text transform="translate(1703.5,323.5) scale(0.8,1)" x="0" y="0">5</text>
<text transform="translate(1703.5,425.5) scale(0.8,1)" x="0" y="0">0</text>
<text transform="translate(1703.5,526.5) scale(0.8,1)" x="0" y="0">-5</text>
<text transform="translate(1703.5,628.5) scale(0.8,1)" x="0" y="0">-10</text>
</g>
<rect x="1738.5" y="240" width="29" height="77.5" fill="#cbcbcb" stroke="#b5b5b5" stroke-width="1.6"/>
<rect x="1739.3" y="278.5" width="27.4" height="38.2" fill="#fc7f7f"/>
<line x1="1738.5" y1="278.5" x2="1767.5" y2="278.5" stroke="#b5b5b5" stroke-width="1.6"/>
<g font-family="'Liberation Sans',Arial,sans-serif" font-size="25" fill="#222" stroke="#222" stroke-width="0.5">
<text transform="translate(1771.5,269.5) scale(0.84,1.03)" x="0" y="0">Others</text>
<text transform="translate(1772.5,307) scale(0.835,1.03)" x="0" y="0">Metabolism</text>
</g>
</g>
<g id="panelC">
<text x="28" y="1540" font-family="'Liberation Serif',serif" font-size="79" fill="#000">C</text>
<text x="1206.7" y="1476.3" font-family="'Liberation Sans',Arial,sans-serif" font-weight="bold" font-size="31.5" letter-spacing="1.2" text-anchor="middle" fill="#111" stroke="#111" stroke-width="0.4">Statistics of Pathway Enrichment</text>
<rect x="810.7" y="1502.5" width="792" height="1130.2" fill="#fff"/>
<line x1="930.88" y1="1502.5" x2="930.88" y2="2632.7" stroke="#f7f7f7" stroke-width="4.6"/><line x1="1105.23" y1="1502.5" x2="1105.23" y2="2632.7" stroke="#f7f7f7" stroke-width="4.6"/><line x1="1279.58" y1="1502.5" x2="1279.58" y2="2632.7" stroke="#f7f7f7" stroke-width="4.6"/><line x1="1453.93" y1="1502.5" x2="1453.93" y2="2632.7" stroke="#f7f7f7" stroke-width="4.6"/><line x1="843.7" y1="1502.5" x2="843.7" y2="2632.7" stroke="#f1f1f1" stroke-width="5"/><line x1="1018.05" y1="1502.5" x2="1018.05" y2="2632.7" stroke="#f1f1f1" stroke-width="5"/><line x1="1192.4" y1="1502.5" x2="1192.4" y2="2632.7" stroke="#f1f1f1" stroke-width="5"/><line x1="1366.75" y1="1502.5" x2="1366.75" y2="2632.7" stroke="#f1f1f1" stroke-width="5"/><line x1="1541.1" y1="1502.5" x2="1541.1" y2="2632.7" stroke="#f1f1f1" stroke-width="5"/><line x1="810.7" y1="1557.7" x2="1602.7" y2="1557.7" stroke="#f1f1f1" stroke-width="5"/><line x1="810.7" y1="1650.35" x2="1602.7" y2="1650.35" stroke="#f1f1f1" stroke-width="5"/><line x1="810.7" y1="1743" x2="1602.7" y2="1743" stroke="#f1f1f1" stroke-width="5"/><line x1="810.7" y1="1835.65" x2="1602.7" y2="1835.65" stroke="#f1f1f1" stroke-width="5"/><line x1="810.7" y1="1928.3" x2="1602.7" y2="1928.3" stroke="#f1f1f1" stroke-width="5"/><line x1="810.7" y1="2020.95" x2="1602.7" y2="2020.95" stroke="#f1f1f1" stroke-width="5"/><line x1="810.7" y1="2113.6" x2="1602.7" y2="2113.6" stroke="#f1f1f1" stroke-width="5"/><line x1="810.7" y1="2206.25" x2="1602.7" y2="2206.25" stroke="#f1f1f1" stroke-width="5"/><line x1="810.7" y1="2298.9" x2="1602.7" y2="2298.9" stroke="#f1f1f1" stroke-width="5"/><line x1="810.7" y1="2391.55" x2="1602.7" y2="2391.55" stroke="#f1f1f1" stroke-width="5"/><line x1="810.7" y1="2484.2" x2="1602.7" y2="2484.2" stroke="#f1f1f1" stroke-width="5"/><line x1="810.7" y1="2576.85" x2="1602.7" y2="2576.85" stroke="#f1f1f1" stroke-width="5"/>
<circle cx="1565.6" cy="1557.7" r="18" fill="#c2515f"/>
<circle cx="1086" cy="1650.35" r="19.3" fill="#c2515f"/>
<circle cx="1164.2" cy="1743" r="17.5" fill="#c2515f"/>
<circle cx="1014.4" cy="1835.65" r="19.3" fill="#c2515f"/>
<circle cx="887.2" cy="1928.3" r="19.3" fill="#c2515f"/>
<circle cx="913.1" cy="2020.95" r="14" fill="#c2515f"/>
<circle cx="877.5" cy="2113.6" r="2.2" fill="#c2515f"/>
<circle cx="880.8" cy="2206.25" r="2.2" fill="#c2515f"/>
<circle cx="850" cy="2298.9" r="2.2" fill="#35a5cc"/>
<circle cx="849" cy="2391.55" r="2.2" fill="#35a5cc"/>
<circle cx="846.8" cy="2484.2" r="2.2" fill="#35a5cc"/>
<circle cx="845" cy="2576.85" r="2.4" fill="#2fa866"/>
<path d="M809.8 1501.5V2633.8" stroke="#9c9c9c" stroke-width="5.2" fill="none"/>
<path d="M807.2 1503.2H1603" stroke="#858585" stroke-width="3.6" fill="none"/>
<path d="M1601.5 1501.5V2633.8M807.2 2632.2H1603.1" stroke="#2e2e2e" stroke-width="3.3" fill="none"/>
<g font-family="'Liberation Sans',Arial,sans-serif" font-weight="bold" font-size="26.5" letter-spacing="0.1" fill="#434343" text-anchor="end">
<text x="794" y="1566.9">Flavone and flavonol biosynthesis</text>
<text x="794" y="1659.55">Stilbenoid, diarylheptanoid and gingerol biosynthesis</text>
<text x="794" y="1752.2">Isoflavonoid biosynthesis</text>
<text x="794" y="1844.85">Flavonoid biosynthesis</text>
<text x="794" y="1937.5">Phenylpropanoid biosynthesis</text>
<text x="794" y="2030.15">Cutin, suberine and wax biosynthesis</text>
<text x="794" y="2122.8">Lysine biosynthesis</text>
<text x="794" y="2215.45">Monobactam biosynthesis</text>
<text x="794" y="2308.1">Glycine, serine and threonine metabolism</text>
<text x="794" y="2400.75">Arginine and proline metabolism</text>
<text x="794" y="2493.4">Cysteine and methionine metabolism</text>
<text x="794" y="2586.05">Biosynthesis of amino acids</text>
</g>
<path d="M801.5 1557.7H808.5M801.5 1650.35H808.5M801.5 1743H808.5M801.5 1835.65H808.5M801.5 1928.3H808.5M801.5 2020.95H808.5M801.5 2113.6H808.5M801.5 2206.25H808.5M801.5 2298.9H808.5M801.5 2391.55H808.5M801.5 2484.2H808.5M801.5 2576.85H808.5M843.7 2633.5V2642M1018.05 2633.5V2642M1192.4 2633.5V2642M1366.75 2633.5V2642M1541.1 2633.5V2642" stroke="#6e6e6e" stroke-width="4.6" fill="none"/>
<g font-family="'Liberation Sans',Arial,sans-serif" font-size="25" letter-spacing="0.9" fill="#3c3c3c" stroke="#3c3c3c" stroke-width="0.5" text-anchor="middle">
<text x="843.7" y="2667.5">0</text>
<text x="1018.05" y="2667.5">50</text>
<text x="1192.4" y="2667.5">100</text>
<text x="1366.75" y="2667.5">150</text>
<text x="1541.1" y="2667.5">200</text>
</g>
<text x="1206.7" y="2705" font-family="'Liberation Sans',Arial,sans-serif" font-weight="bold" font-size="26.8" text-anchor="middle" fill="#111">Rich_factor</text>
<text x="1653.5" y="1778" font-family="'Liberation Sans',Arial,sans-serif" font-weight="bold" font-size="36" fill="#111">qvalue</text>
<defs><linearGradient id="gC" x1="0" y1="1" x2="0" y2="0"><stop offset="0" stop-color="#c94f5f"/><stop offset="0.12" stop-color="#b7727b"/><stop offset="0.21" stop-color="#9290a2"/><stop offset="0.27" stop-color="#6aa0ba"/><stop offset="0.35" stop-color="#40b4c5"/><stop offset="0.5" stop-color="#66b48c"/><stop offset="0.6" stop-color="#7db35a"/><stop offset="0.67" stop-color="#84ad2b"/><stop offset="0.78" stop-color="#6f9560"/><stop offset="0.9" stop-color="#45789e"/><stop offset="1" stop-color="#0e69b6"/></linearGradient></defs>
<rect x="1652.7" y="1802" width="53.8" height="258" fill="url(#gC)"/>
<g font-family="'Liberation Sans',Arial,sans-serif" font-size="35.7" fill="#111" stroke="#111" stroke-width="0.4">
<path d="M1652.7 1809.5h10.5M1696 1809.5h10.5" stroke="#fff" stroke-opacity="0.75" stroke-width="1.8"/>
<text x="1724" y="1822.3">1.00</text>
<path d="M1652.7 1870.5h10.5M1696 1870.5h10.5" stroke="#fff" stroke-opacity="0.75" stroke-width="1.8"/>
<text x="1724" y="1883.3">0.75</text>
<path d="M1652.7 1931.5h10.5M1696 1931.5h10.5" stroke="#fff" stroke-opacity="0.75" stroke-width="1.8"/>
<text x="1724" y="1944.3">0.50</text>
<path d="M1652.7 1992.5h10.5M1696 1992.5h10.5" stroke="#fff" stroke-opacity="0.75" stroke-width="1.8"/>
<text x="1724" y="2005.3">0.25</text>
<path d="M1652.7 2053.5h10.5M1696 2053.5h10.5" stroke="#fff" stroke-opacity="0.75" stroke-width="1.8"/>
<text x="1724" y="2066.3">0.00</text>
</g>
<text x="1653.5" y="2156.6" font-family="'Liberation Sans',Arial,sans-serif" font-weight="bold" font-size="36" fill="#111">Count</text>
<g font-family="'Liberation Sans',Arial,sans-serif" font-size="35.7" fill="#111" stroke="#111" stroke-width="0.4">
<circle cx="1679" cy="2203.9" r="13" fill="#000"/>
<text x="1724" y="2216.7">5</text>
<circle cx="1679" cy="2255.4" r="16.8" fill="#000"/>
<text x="1724" y="2268.2">10</text>
<circle cx="1679" cy="2307.5" r="19.6" fill="#000"/>
<text x="1724" y="2320.3">15</text>
<circle cx="1679" cy="2359" r="22.4" fill="#000"/>
<text x="1724" y="2371.8">20</text>
</g>
</g>
</svg></body></html>
